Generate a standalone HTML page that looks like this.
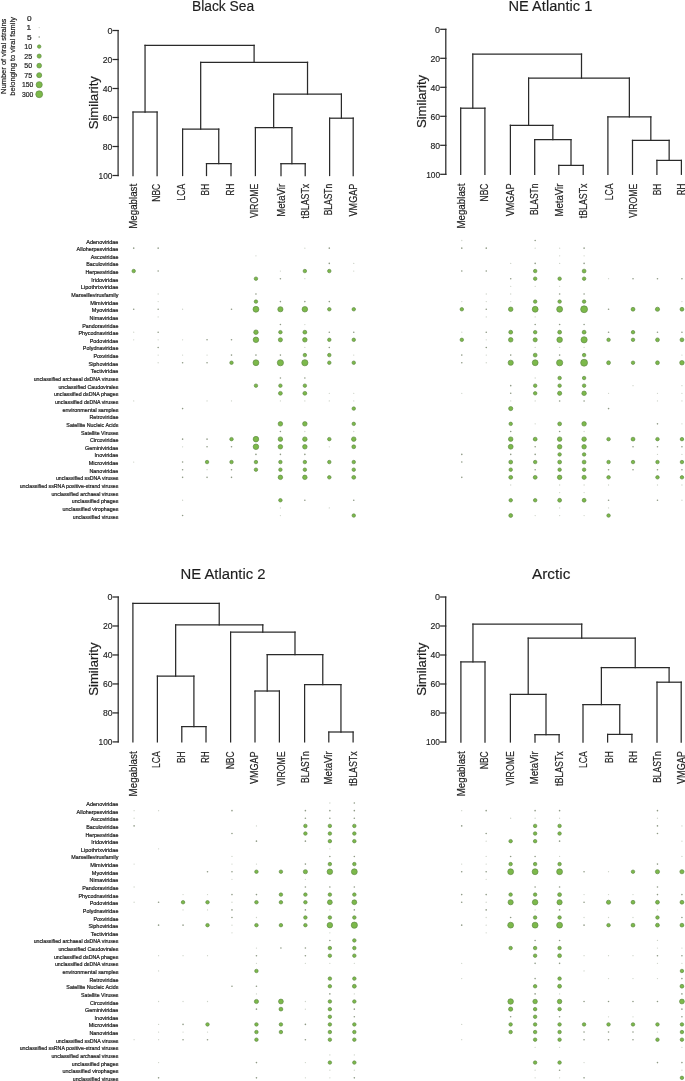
<!DOCTYPE html><html><head><meta charset="utf-8"><style>html,body{margin:0;padding:0;background:#fff;width:685px;height:1081px;overflow:hidden}svg{display:block;will-change:transform}text{font-family:"Liberation Sans",sans-serif}</style></head><body><svg width="685" height="1081" viewBox="0 0 685 1081" font-family='"Liberation Sans", sans-serif'>
<rect width="685" height="1081" fill="#ffffff"/>
<text transform="translate(6.0,94.0) rotate(-90)" font-size="7.5" textLength="75.4" lengthAdjust="spacingAndGlyphs" fill="#1e1e1e" stroke="#1e1e1e" stroke-width="0.2">Number of viral strains</text>
<text transform="translate(15.4,95.8) rotate(-90)" font-size="7.5" textLength="78.7" lengthAdjust="spacingAndGlyphs" fill="#1e1e1e" stroke="#1e1e1e" stroke-width="0.2">belonging to viral family</text>
<text x="31.6" y="20.60" font-size="7.3" text-anchor="end" textLength="4.6" lengthAdjust="spacingAndGlyphs" fill="#1e1e1e" stroke="#1e1e1e" stroke-width="0.2">0</text>
<text x="31.0" y="30.13" font-size="7.3" text-anchor="end" textLength="4.6" lengthAdjust="spacingAndGlyphs" fill="#1e1e1e" stroke="#1e1e1e" stroke-width="0.2">1</text>
<circle cx="39.2" cy="27.53" r="0.65" fill="#cdd3c8"/>
<text x="31.6" y="39.66" font-size="7.3" text-anchor="end" textLength="4.6" lengthAdjust="spacingAndGlyphs" fill="#1e1e1e" stroke="#1e1e1e" stroke-width="0.2">5</text>
<circle cx="39.2" cy="37.06" r="0.8" fill="#8f9a86"/>
<text x="32.2" y="49.19" font-size="7.3" text-anchor="end" textLength="7.9" lengthAdjust="spacingAndGlyphs" fill="#1e1e1e" stroke="#1e1e1e" stroke-width="0.2">10</text>
<circle cx="39.2" cy="46.59" r="1.75" fill="#7cb94a" stroke="#5f8844" stroke-width="0.65"/>
<text x="32.2" y="58.72" font-size="7.3" text-anchor="end" textLength="7.9" lengthAdjust="spacingAndGlyphs" fill="#1e1e1e" stroke="#1e1e1e" stroke-width="0.2">25</text>
<circle cx="39.2" cy="56.12" r="2.08" fill="#7cb94a" stroke="#5f8844" stroke-width="0.65"/>
<text x="32.2" y="68.25" font-size="7.3" text-anchor="end" textLength="7.9" lengthAdjust="spacingAndGlyphs" fill="#1e1e1e" stroke="#1e1e1e" stroke-width="0.2">50</text>
<circle cx="39.2" cy="65.65" r="2.38" fill="#7cb94a" stroke="#5f8844" stroke-width="0.65"/>
<text x="32.2" y="77.78" font-size="7.3" text-anchor="end" textLength="7.9" lengthAdjust="spacingAndGlyphs" fill="#1e1e1e" stroke="#1e1e1e" stroke-width="0.2">75</text>
<circle cx="39.2" cy="75.18" r="2.53" fill="#7cb94a" stroke="#5f8844" stroke-width="0.65"/>
<text x="33.3" y="87.31" font-size="7.3" text-anchor="end" textLength="11.4" lengthAdjust="spacingAndGlyphs" fill="#1e1e1e" stroke="#1e1e1e" stroke-width="0.2">150</text>
<circle cx="39.2" cy="84.71" r="3.08" fill="#7cb94a" stroke="#5f8844" stroke-width="0.65"/>
<text x="33.3" y="96.84" font-size="7.3" text-anchor="end" textLength="11.4" lengthAdjust="spacingAndGlyphs" fill="#1e1e1e" stroke="#1e1e1e" stroke-width="0.2">300</text>
<circle cx="39.2" cy="94.24" r="3.45" fill="#7cb94a" stroke="#5f8844" stroke-width="0.65"/>
<text x="192" y="11.2" font-size="15.4" textLength="62.2" lengthAdjust="spacingAndGlyphs" fill="#1e1e1e" stroke="#1e1e1e" stroke-width="0.15">Black Sea</text>
<g stroke="#2a2a2a" stroke-width="1.25" fill="none" stroke-linecap="square">
<line x1="118.10" y1="30.50" x2="118.10" y2="175.50"/>
<line x1="113.10" y1="30.50" x2="118.10" y2="30.50"/>
<line x1="113.10" y1="59.50" x2="118.10" y2="59.50"/>
<line x1="113.10" y1="88.50" x2="118.10" y2="88.50"/>
<line x1="113.10" y1="117.50" x2="118.10" y2="117.50"/>
<line x1="113.10" y1="146.50" x2="118.10" y2="146.50"/>
<line x1="113.10" y1="175.50" x2="118.10" y2="175.50"/>
<line x1="133.00" y1="112.00" x2="133.00" y2="175.50"/>
<line x1="157.10" y1="112.00" x2="157.10" y2="175.50"/>
<line x1="133.00" y1="112.00" x2="157.10" y2="112.00"/>
<line x1="206.50" y1="163.60" x2="206.50" y2="175.50"/>
<line x1="231.00" y1="163.60" x2="231.00" y2="175.50"/>
<line x1="206.50" y1="163.60" x2="231.00" y2="163.60"/>
<line x1="182.60" y1="129.20" x2="182.60" y2="175.50"/>
<line x1="218.75" y1="129.20" x2="218.75" y2="163.60"/>
<line x1="182.60" y1="129.20" x2="218.75" y2="129.20"/>
<line x1="281.00" y1="163.70" x2="281.00" y2="175.50"/>
<line x1="305.20" y1="163.70" x2="305.20" y2="175.50"/>
<line x1="281.00" y1="163.70" x2="305.20" y2="163.70"/>
<line x1="255.40" y1="127.50" x2="255.40" y2="175.50"/>
<line x1="291.90" y1="127.50" x2="291.90" y2="163.70"/>
<line x1="255.40" y1="127.50" x2="291.90" y2="127.50"/>
<line x1="329.60" y1="118.20" x2="329.60" y2="175.50"/>
<line x1="353.20" y1="118.20" x2="353.20" y2="175.50"/>
<line x1="329.60" y1="118.20" x2="353.20" y2="118.20"/>
<line x1="273.65" y1="94.10" x2="273.65" y2="127.50"/>
<line x1="341.40" y1="94.10" x2="341.40" y2="118.20"/>
<line x1="273.65" y1="94.10" x2="341.40" y2="94.10"/>
<line x1="200.68" y1="62.30" x2="200.68" y2="129.20"/>
<line x1="307.52" y1="62.30" x2="307.52" y2="94.10"/>
<line x1="200.68" y1="62.30" x2="307.52" y2="62.30"/>
<line x1="145.05" y1="45.40" x2="145.05" y2="112.00"/>
<line x1="254.10" y1="45.40" x2="254.10" y2="62.30"/>
<line x1="145.05" y1="45.40" x2="254.10" y2="45.40"/>
</g>
<text x="112.40" y="33.80" font-size="9.0" text-anchor="end" textLength="5.0" lengthAdjust="spacingAndGlyphs" fill="#1e1e1e" stroke="#1e1e1e" stroke-width="0.15">0</text>
<text x="112.40" y="62.80" font-size="9.0" text-anchor="end" textLength="9.6" lengthAdjust="spacingAndGlyphs" fill="#1e1e1e" stroke="#1e1e1e" stroke-width="0.15">20</text>
<text x="112.40" y="91.80" font-size="9.0" text-anchor="end" textLength="9.6" lengthAdjust="spacingAndGlyphs" fill="#1e1e1e" stroke="#1e1e1e" stroke-width="0.15">40</text>
<text x="112.40" y="120.80" font-size="9.0" text-anchor="end" textLength="9.6" lengthAdjust="spacingAndGlyphs" fill="#1e1e1e" stroke="#1e1e1e" stroke-width="0.15">60</text>
<text x="112.40" y="149.80" font-size="9.0" text-anchor="end" textLength="9.6" lengthAdjust="spacingAndGlyphs" fill="#1e1e1e" stroke="#1e1e1e" stroke-width="0.15">80</text>
<text x="112.40" y="178.80" font-size="9.0" text-anchor="end" textLength="13.9" lengthAdjust="spacingAndGlyphs" fill="#1e1e1e" stroke="#1e1e1e" stroke-width="0.15">100</text>
<text transform="translate(98.20,102.70) rotate(-90)" font-size="13.6" text-anchor="middle" textLength="53.2" lengthAdjust="spacingAndGlyphs" fill="#1e1e1e" stroke="#1e1e1e" stroke-width="0.2">Similarity</text>
<text transform="translate(136.70,183.80) rotate(-90)" font-size="10.0" text-anchor="end" textLength="45" lengthAdjust="spacingAndGlyphs" fill="#1e1e1e" stroke="#1e1e1e" stroke-width="0.2">Megablast</text>
<text transform="translate(159.90,183.80) rotate(-90)" font-size="10.0" text-anchor="end" textLength="17.9" lengthAdjust="spacingAndGlyphs" fill="#1e1e1e" stroke="#1e1e1e" stroke-width="0.2">NBC</text>
<text transform="translate(185.40,183.80) rotate(-90)" font-size="10.0" text-anchor="end" textLength="16.7" lengthAdjust="spacingAndGlyphs" fill="#1e1e1e" stroke="#1e1e1e" stroke-width="0.2">LCA</text>
<text transform="translate(209.40,183.80) rotate(-90)" font-size="10.0" text-anchor="end" textLength="11.6" lengthAdjust="spacingAndGlyphs" fill="#1e1e1e" stroke="#1e1e1e" stroke-width="0.2">BH</text>
<text transform="translate(233.60,183.80) rotate(-90)" font-size="10.0" text-anchor="end" textLength="11.6" lengthAdjust="spacingAndGlyphs" fill="#1e1e1e" stroke="#1e1e1e" stroke-width="0.2">RH</text>
<text transform="translate(257.90,183.80) rotate(-90)" font-size="10.0" text-anchor="end" textLength="34.3" lengthAdjust="spacingAndGlyphs" fill="#1e1e1e" stroke="#1e1e1e" stroke-width="0.2">VIROME</text>
<text transform="translate(284.70,183.80) rotate(-90)" font-size="10.0" text-anchor="end" textLength="33" lengthAdjust="spacingAndGlyphs" fill="#1e1e1e" stroke="#1e1e1e" stroke-width="0.2">MetaVir</text>
<text transform="translate(308.70,183.80) rotate(-90)" font-size="10.0" text-anchor="end" textLength="34.7" lengthAdjust="spacingAndGlyphs" fill="#1e1e1e" stroke="#1e1e1e" stroke-width="0.2">tBLASTx</text>
<text transform="translate(332.40,183.80) rotate(-90)" font-size="10.0" text-anchor="end" textLength="31.5" lengthAdjust="spacingAndGlyphs" fill="#1e1e1e" stroke="#1e1e1e" stroke-width="0.2">BLASTn</text>
<text transform="translate(357.20,183.80) rotate(-90)" font-size="10.0" text-anchor="end" textLength="32.6" lengthAdjust="spacingAndGlyphs" fill="#1e1e1e" stroke="#1e1e1e" stroke-width="0.2">VMGAP</text>
<text x="508.5" y="11.2" font-size="15.4" textLength="83.8" lengthAdjust="spacingAndGlyphs" fill="#1e1e1e" stroke="#1e1e1e" stroke-width="0.15">NE Atlantic 1</text>
<g stroke="#2a2a2a" stroke-width="1.25" fill="none" stroke-linecap="square">
<line x1="445.80" y1="29.30" x2="445.80" y2="174.30"/>
<line x1="440.80" y1="29.30" x2="445.80" y2="29.30"/>
<line x1="440.80" y1="58.30" x2="445.80" y2="58.30"/>
<line x1="440.80" y1="87.30" x2="445.80" y2="87.30"/>
<line x1="440.80" y1="116.30" x2="445.80" y2="116.30"/>
<line x1="440.80" y1="145.30" x2="445.80" y2="145.30"/>
<line x1="440.80" y1="174.30" x2="445.80" y2="174.30"/>
<line x1="460.70" y1="108.20" x2="460.70" y2="174.30"/>
<line x1="484.90" y1="108.20" x2="484.90" y2="174.30"/>
<line x1="460.70" y1="108.20" x2="484.90" y2="108.20"/>
<line x1="558.80" y1="165.40" x2="558.80" y2="174.30"/>
<line x1="583.20" y1="165.40" x2="583.20" y2="174.30"/>
<line x1="558.80" y1="165.40" x2="583.20" y2="165.40"/>
<line x1="534.70" y1="139.50" x2="534.70" y2="174.30"/>
<line x1="571.00" y1="139.50" x2="571.00" y2="165.40"/>
<line x1="534.70" y1="139.50" x2="571.00" y2="139.50"/>
<line x1="510.40" y1="125.30" x2="510.40" y2="174.30"/>
<line x1="552.85" y1="125.30" x2="552.85" y2="139.50"/>
<line x1="510.40" y1="125.30" x2="552.85" y2="125.30"/>
<line x1="656.90" y1="160.40" x2="656.90" y2="174.30"/>
<line x1="681.40" y1="160.40" x2="681.40" y2="174.30"/>
<line x1="656.90" y1="160.40" x2="681.40" y2="160.40"/>
<line x1="632.50" y1="140.40" x2="632.50" y2="174.30"/>
<line x1="669.15" y1="140.40" x2="669.15" y2="160.40"/>
<line x1="632.50" y1="140.40" x2="669.15" y2="140.40"/>
<line x1="607.90" y1="116.80" x2="607.90" y2="174.30"/>
<line x1="650.83" y1="116.80" x2="650.83" y2="140.40"/>
<line x1="607.90" y1="116.80" x2="650.83" y2="116.80"/>
<line x1="528.60" y1="78.10" x2="528.60" y2="125.30"/>
<line x1="629.36" y1="78.10" x2="629.36" y2="116.80"/>
<line x1="528.60" y1="78.10" x2="629.36" y2="78.10"/>
<line x1="472.80" y1="54.10" x2="472.80" y2="108.20"/>
<line x1="581.50" y1="54.10" x2="581.50" y2="78.10"/>
<line x1="472.80" y1="54.10" x2="581.50" y2="54.10"/>
</g>
<text x="440.10" y="32.60" font-size="9.0" text-anchor="end" textLength="5.0" lengthAdjust="spacingAndGlyphs" fill="#1e1e1e" stroke="#1e1e1e" stroke-width="0.15">0</text>
<text x="440.10" y="61.60" font-size="9.0" text-anchor="end" textLength="9.6" lengthAdjust="spacingAndGlyphs" fill="#1e1e1e" stroke="#1e1e1e" stroke-width="0.15">20</text>
<text x="440.10" y="90.60" font-size="9.0" text-anchor="end" textLength="9.6" lengthAdjust="spacingAndGlyphs" fill="#1e1e1e" stroke="#1e1e1e" stroke-width="0.15">40</text>
<text x="440.10" y="119.60" font-size="9.0" text-anchor="end" textLength="9.6" lengthAdjust="spacingAndGlyphs" fill="#1e1e1e" stroke="#1e1e1e" stroke-width="0.15">60</text>
<text x="440.10" y="148.60" font-size="9.0" text-anchor="end" textLength="9.6" lengthAdjust="spacingAndGlyphs" fill="#1e1e1e" stroke="#1e1e1e" stroke-width="0.15">80</text>
<text x="440.10" y="177.60" font-size="9.0" text-anchor="end" textLength="13.9" lengthAdjust="spacingAndGlyphs" fill="#1e1e1e" stroke="#1e1e1e" stroke-width="0.15">100</text>
<text transform="translate(425.90,101.50) rotate(-90)" font-size="13.6" text-anchor="middle" textLength="53.2" lengthAdjust="spacingAndGlyphs" fill="#1e1e1e" stroke="#1e1e1e" stroke-width="0.2">Similarity</text>
<text transform="translate(465.10,183.60) rotate(-90)" font-size="10.0" text-anchor="end" textLength="45" lengthAdjust="spacingAndGlyphs" fill="#1e1e1e" stroke="#1e1e1e" stroke-width="0.2">Megablast</text>
<text transform="translate(488.10,183.60) rotate(-90)" font-size="10.0" text-anchor="end" textLength="17.9" lengthAdjust="spacingAndGlyphs" fill="#1e1e1e" stroke="#1e1e1e" stroke-width="0.2">NBC</text>
<text transform="translate(513.60,183.60) rotate(-90)" font-size="10.0" text-anchor="end" textLength="32.6" lengthAdjust="spacingAndGlyphs" fill="#1e1e1e" stroke="#1e1e1e" stroke-width="0.2">VMGAP</text>
<text transform="translate(538.30,183.60) rotate(-90)" font-size="10.0" text-anchor="end" textLength="31.5" lengthAdjust="spacingAndGlyphs" fill="#1e1e1e" stroke="#1e1e1e" stroke-width="0.2">BLASTn</text>
<text transform="translate(562.60,183.60) rotate(-90)" font-size="10.0" text-anchor="end" textLength="33" lengthAdjust="spacingAndGlyphs" fill="#1e1e1e" stroke="#1e1e1e" stroke-width="0.2">MetaVir</text>
<text transform="translate(587.00,183.60) rotate(-90)" font-size="10.0" text-anchor="end" textLength="34.7" lengthAdjust="spacingAndGlyphs" fill="#1e1e1e" stroke="#1e1e1e" stroke-width="0.2">tBLASTx</text>
<text transform="translate(613.00,183.60) rotate(-90)" font-size="10.0" text-anchor="end" textLength="16.7" lengthAdjust="spacingAndGlyphs" fill="#1e1e1e" stroke="#1e1e1e" stroke-width="0.2">LCA</text>
<text transform="translate(637.00,183.60) rotate(-90)" font-size="10.0" text-anchor="end" textLength="34.3" lengthAdjust="spacingAndGlyphs" fill="#1e1e1e" stroke="#1e1e1e" stroke-width="0.2">VIROME</text>
<text transform="translate(661.30,183.60) rotate(-90)" font-size="10.0" text-anchor="end" textLength="11.6" lengthAdjust="spacingAndGlyphs" fill="#1e1e1e" stroke="#1e1e1e" stroke-width="0.2">BH</text>
<text transform="translate(685.30,183.60) rotate(-90)" font-size="10.0" text-anchor="end" textLength="11.6" lengthAdjust="spacingAndGlyphs" fill="#1e1e1e" stroke="#1e1e1e" stroke-width="0.2">RH</text>
<text x="180.5" y="578.9" font-size="15.4" textLength="85.1" lengthAdjust="spacingAndGlyphs" fill="#1e1e1e" stroke="#1e1e1e" stroke-width="0.15">NE Atlantic 2</text>
<g stroke="#2a2a2a" stroke-width="1.25" fill="none" stroke-linecap="square">
<line x1="118.20" y1="597.00" x2="118.20" y2="741.90"/>
<line x1="113.20" y1="597.00" x2="118.20" y2="597.00"/>
<line x1="113.20" y1="625.98" x2="118.20" y2="625.98"/>
<line x1="113.20" y1="654.96" x2="118.20" y2="654.96"/>
<line x1="113.20" y1="683.94" x2="118.20" y2="683.94"/>
<line x1="113.20" y1="712.92" x2="118.20" y2="712.92"/>
<line x1="113.20" y1="741.90" x2="118.20" y2="741.90"/>
<line x1="181.80" y1="726.60" x2="181.80" y2="741.90"/>
<line x1="206.00" y1="726.60" x2="206.00" y2="741.90"/>
<line x1="181.80" y1="726.60" x2="206.00" y2="726.60"/>
<line x1="157.40" y1="676.10" x2="157.40" y2="741.90"/>
<line x1="193.90" y1="676.10" x2="193.90" y2="726.60"/>
<line x1="157.40" y1="676.10" x2="193.90" y2="676.10"/>
<line x1="255.00" y1="691.00" x2="255.00" y2="741.90"/>
<line x1="279.40" y1="691.00" x2="279.40" y2="741.90"/>
<line x1="255.00" y1="691.00" x2="279.40" y2="691.00"/>
<line x1="328.80" y1="732.00" x2="328.80" y2="741.90"/>
<line x1="353.10" y1="732.00" x2="353.10" y2="741.90"/>
<line x1="328.80" y1="732.00" x2="353.10" y2="732.00"/>
<line x1="304.60" y1="684.70" x2="304.60" y2="741.90"/>
<line x1="340.95" y1="684.70" x2="340.95" y2="732.00"/>
<line x1="304.60" y1="684.70" x2="340.95" y2="684.70"/>
<line x1="267.20" y1="654.60" x2="267.20" y2="691.00"/>
<line x1="322.78" y1="654.60" x2="322.78" y2="684.70"/>
<line x1="267.20" y1="654.60" x2="322.78" y2="654.60"/>
<line x1="230.60" y1="632.20" x2="230.60" y2="741.90"/>
<line x1="294.99" y1="632.20" x2="294.99" y2="654.60"/>
<line x1="230.60" y1="632.20" x2="294.99" y2="632.20"/>
<line x1="175.65" y1="624.80" x2="175.65" y2="676.10"/>
<line x1="262.79" y1="624.80" x2="262.79" y2="632.20"/>
<line x1="175.65" y1="624.80" x2="262.79" y2="624.80"/>
<line x1="132.90" y1="603.40" x2="132.90" y2="741.90"/>
<line x1="219.22" y1="603.40" x2="219.22" y2="624.80"/>
<line x1="132.90" y1="603.40" x2="219.22" y2="603.40"/>
</g>
<text x="112.50" y="600.30" font-size="9.0" text-anchor="end" textLength="5.0" lengthAdjust="spacingAndGlyphs" fill="#1e1e1e" stroke="#1e1e1e" stroke-width="0.15">0</text>
<text x="112.50" y="629.28" font-size="9.0" text-anchor="end" textLength="9.6" lengthAdjust="spacingAndGlyphs" fill="#1e1e1e" stroke="#1e1e1e" stroke-width="0.15">20</text>
<text x="112.50" y="658.26" font-size="9.0" text-anchor="end" textLength="9.6" lengthAdjust="spacingAndGlyphs" fill="#1e1e1e" stroke="#1e1e1e" stroke-width="0.15">40</text>
<text x="112.50" y="687.24" font-size="9.0" text-anchor="end" textLength="9.6" lengthAdjust="spacingAndGlyphs" fill="#1e1e1e" stroke="#1e1e1e" stroke-width="0.15">60</text>
<text x="112.50" y="716.22" font-size="9.0" text-anchor="end" textLength="9.6" lengthAdjust="spacingAndGlyphs" fill="#1e1e1e" stroke="#1e1e1e" stroke-width="0.15">80</text>
<text x="112.50" y="745.20" font-size="9.0" text-anchor="end" textLength="13.9" lengthAdjust="spacingAndGlyphs" fill="#1e1e1e" stroke="#1e1e1e" stroke-width="0.15">100</text>
<text transform="translate(98.30,669.15) rotate(-90)" font-size="13.6" text-anchor="middle" textLength="53.2" lengthAdjust="spacingAndGlyphs" fill="#1e1e1e" stroke="#1e1e1e" stroke-width="0.2">Similarity</text>
<text transform="translate(136.70,751.40) rotate(-90)" font-size="10.0" text-anchor="end" textLength="45" lengthAdjust="spacingAndGlyphs" fill="#1e1e1e" stroke="#1e1e1e" stroke-width="0.2">Megablast</text>
<text transform="translate(159.90,751.40) rotate(-90)" font-size="10.0" text-anchor="end" textLength="16.7" lengthAdjust="spacingAndGlyphs" fill="#1e1e1e" stroke="#1e1e1e" stroke-width="0.2">LCA</text>
<text transform="translate(185.40,751.40) rotate(-90)" font-size="10.0" text-anchor="end" textLength="11.6" lengthAdjust="spacingAndGlyphs" fill="#1e1e1e" stroke="#1e1e1e" stroke-width="0.2">BH</text>
<text transform="translate(209.40,751.40) rotate(-90)" font-size="10.0" text-anchor="end" textLength="11.6" lengthAdjust="spacingAndGlyphs" fill="#1e1e1e" stroke="#1e1e1e" stroke-width="0.2">RH</text>
<text transform="translate(233.60,751.40) rotate(-90)" font-size="10.0" text-anchor="end" textLength="17.9" lengthAdjust="spacingAndGlyphs" fill="#1e1e1e" stroke="#1e1e1e" stroke-width="0.2">NBC</text>
<text transform="translate(257.90,751.40) rotate(-90)" font-size="10.0" text-anchor="end" textLength="32.6" lengthAdjust="spacingAndGlyphs" fill="#1e1e1e" stroke="#1e1e1e" stroke-width="0.2">VMGAP</text>
<text transform="translate(284.70,751.40) rotate(-90)" font-size="10.0" text-anchor="end" textLength="34.3" lengthAdjust="spacingAndGlyphs" fill="#1e1e1e" stroke="#1e1e1e" stroke-width="0.2">VIROME</text>
<text transform="translate(308.70,751.40) rotate(-90)" font-size="10.0" text-anchor="end" textLength="31.5" lengthAdjust="spacingAndGlyphs" fill="#1e1e1e" stroke="#1e1e1e" stroke-width="0.2">BLASTn</text>
<text transform="translate(332.40,751.40) rotate(-90)" font-size="10.0" text-anchor="end" textLength="33" lengthAdjust="spacingAndGlyphs" fill="#1e1e1e" stroke="#1e1e1e" stroke-width="0.2">MetaVir</text>
<text transform="translate(357.20,751.40) rotate(-90)" font-size="10.0" text-anchor="end" textLength="34.7" lengthAdjust="spacingAndGlyphs" fill="#1e1e1e" stroke="#1e1e1e" stroke-width="0.2">tBLASTx</text>
<text x="532.0" y="579.1" font-size="15.4" textLength="38.4" lengthAdjust="spacingAndGlyphs" fill="#1e1e1e" stroke="#1e1e1e" stroke-width="0.15">Arctic</text>
<g stroke="#2a2a2a" stroke-width="1.25" fill="none" stroke-linecap="square">
<line x1="445.70" y1="597.00" x2="445.70" y2="742.00"/>
<line x1="440.70" y1="597.00" x2="445.70" y2="597.00"/>
<line x1="440.70" y1="626.00" x2="445.70" y2="626.00"/>
<line x1="440.70" y1="655.00" x2="445.70" y2="655.00"/>
<line x1="440.70" y1="684.00" x2="445.70" y2="684.00"/>
<line x1="440.70" y1="713.00" x2="445.70" y2="713.00"/>
<line x1="440.70" y1="742.00" x2="445.70" y2="742.00"/>
<line x1="460.90" y1="661.90" x2="460.90" y2="742.00"/>
<line x1="485.00" y1="661.90" x2="485.00" y2="742.00"/>
<line x1="460.90" y1="661.90" x2="485.00" y2="661.90"/>
<line x1="535.00" y1="734.70" x2="535.00" y2="742.00"/>
<line x1="559.10" y1="734.70" x2="559.10" y2="742.00"/>
<line x1="535.00" y1="734.70" x2="559.10" y2="734.70"/>
<line x1="510.40" y1="694.40" x2="510.40" y2="742.00"/>
<line x1="546.00" y1="694.40" x2="546.00" y2="734.70"/>
<line x1="510.40" y1="694.40" x2="546.00" y2="694.40"/>
<line x1="607.60" y1="734.40" x2="607.60" y2="742.00"/>
<line x1="631.90" y1="734.40" x2="631.90" y2="742.00"/>
<line x1="607.60" y1="734.40" x2="631.90" y2="734.40"/>
<line x1="583.00" y1="704.60" x2="583.00" y2="742.00"/>
<line x1="619.75" y1="704.60" x2="619.75" y2="734.40"/>
<line x1="583.00" y1="704.60" x2="619.75" y2="704.60"/>
<line x1="657.00" y1="682.20" x2="657.00" y2="742.00"/>
<line x1="681.20" y1="682.20" x2="681.20" y2="742.00"/>
<line x1="657.00" y1="682.20" x2="681.20" y2="682.20"/>
<line x1="601.38" y1="667.50" x2="601.38" y2="704.60"/>
<line x1="669.10" y1="667.50" x2="669.10" y2="682.20"/>
<line x1="601.38" y1="667.50" x2="669.10" y2="667.50"/>
<line x1="528.20" y1="638.20" x2="528.20" y2="694.40"/>
<line x1="635.24" y1="638.20" x2="635.24" y2="667.50"/>
<line x1="528.20" y1="638.20" x2="635.24" y2="638.20"/>
<line x1="472.95" y1="624.20" x2="472.95" y2="661.90"/>
<line x1="581.72" y1="624.20" x2="581.72" y2="638.20"/>
<line x1="472.95" y1="624.20" x2="581.72" y2="624.20"/>
</g>
<text x="440.00" y="600.30" font-size="9.0" text-anchor="end" textLength="5.0" lengthAdjust="spacingAndGlyphs" fill="#1e1e1e" stroke="#1e1e1e" stroke-width="0.15">0</text>
<text x="440.00" y="629.30" font-size="9.0" text-anchor="end" textLength="9.6" lengthAdjust="spacingAndGlyphs" fill="#1e1e1e" stroke="#1e1e1e" stroke-width="0.15">20</text>
<text x="440.00" y="658.30" font-size="9.0" text-anchor="end" textLength="9.6" lengthAdjust="spacingAndGlyphs" fill="#1e1e1e" stroke="#1e1e1e" stroke-width="0.15">40</text>
<text x="440.00" y="687.30" font-size="9.0" text-anchor="end" textLength="9.6" lengthAdjust="spacingAndGlyphs" fill="#1e1e1e" stroke="#1e1e1e" stroke-width="0.15">60</text>
<text x="440.00" y="716.30" font-size="9.0" text-anchor="end" textLength="9.6" lengthAdjust="spacingAndGlyphs" fill="#1e1e1e" stroke="#1e1e1e" stroke-width="0.15">80</text>
<text x="440.00" y="745.30" font-size="9.0" text-anchor="end" textLength="13.9" lengthAdjust="spacingAndGlyphs" fill="#1e1e1e" stroke="#1e1e1e" stroke-width="0.15">100</text>
<text transform="translate(425.80,669.20) rotate(-90)" font-size="13.6" text-anchor="middle" textLength="53.2" lengthAdjust="spacingAndGlyphs" fill="#1e1e1e" stroke="#1e1e1e" stroke-width="0.2">Similarity</text>
<text transform="translate(465.10,751.30) rotate(-90)" font-size="10.0" text-anchor="end" textLength="45" lengthAdjust="spacingAndGlyphs" fill="#1e1e1e" stroke="#1e1e1e" stroke-width="0.2">Megablast</text>
<text transform="translate(488.10,751.30) rotate(-90)" font-size="10.0" text-anchor="end" textLength="17.9" lengthAdjust="spacingAndGlyphs" fill="#1e1e1e" stroke="#1e1e1e" stroke-width="0.2">NBC</text>
<text transform="translate(513.60,751.30) rotate(-90)" font-size="10.0" text-anchor="end" textLength="34.3" lengthAdjust="spacingAndGlyphs" fill="#1e1e1e" stroke="#1e1e1e" stroke-width="0.2">VIROME</text>
<text transform="translate(538.30,751.30) rotate(-90)" font-size="10.0" text-anchor="end" textLength="33" lengthAdjust="spacingAndGlyphs" fill="#1e1e1e" stroke="#1e1e1e" stroke-width="0.2">MetaVir</text>
<text transform="translate(562.60,751.30) rotate(-90)" font-size="10.0" text-anchor="end" textLength="34.7" lengthAdjust="spacingAndGlyphs" fill="#1e1e1e" stroke="#1e1e1e" stroke-width="0.2">tBLASTx</text>
<text transform="translate(587.00,751.30) rotate(-90)" font-size="10.0" text-anchor="end" textLength="16.7" lengthAdjust="spacingAndGlyphs" fill="#1e1e1e" stroke="#1e1e1e" stroke-width="0.2">LCA</text>
<text transform="translate(613.00,751.30) rotate(-90)" font-size="10.0" text-anchor="end" textLength="11.6" lengthAdjust="spacingAndGlyphs" fill="#1e1e1e" stroke="#1e1e1e" stroke-width="0.2">BH</text>
<text transform="translate(637.00,751.30) rotate(-90)" font-size="10.0" text-anchor="end" textLength="11.6" lengthAdjust="spacingAndGlyphs" fill="#1e1e1e" stroke="#1e1e1e" stroke-width="0.2">RH</text>
<text transform="translate(661.30,751.30) rotate(-90)" font-size="10.0" text-anchor="end" textLength="31.5" lengthAdjust="spacingAndGlyphs" fill="#1e1e1e" stroke="#1e1e1e" stroke-width="0.2">BLASTn</text>
<text transform="translate(685.30,751.30) rotate(-90)" font-size="10.0" text-anchor="end" textLength="32.6" lengthAdjust="spacingAndGlyphs" fill="#1e1e1e" stroke="#1e1e1e" stroke-width="0.2">VMGAP</text>
<text x="118.4" y="243.50" font-size="5.5" text-anchor="end" textLength="32.05" lengthAdjust="spacingAndGlyphs" fill="#1e1e1e" stroke="#1e1e1e" stroke-width="0.22">Adenoviridae</text>
<text x="118.4" y="251.14" font-size="5.5" text-anchor="end" textLength="41.78" lengthAdjust="spacingAndGlyphs" fill="#1e1e1e" stroke="#1e1e1e" stroke-width="0.22">Alloherpesviridae</text>
<text x="118.4" y="258.78" font-size="5.5" text-anchor="end" textLength="27.62" lengthAdjust="spacingAndGlyphs" fill="#1e1e1e" stroke="#1e1e1e" stroke-width="0.22">Ascoviridae</text>
<text x="118.4" y="266.42" font-size="5.5" text-anchor="end" textLength="32.21" lengthAdjust="spacingAndGlyphs" fill="#1e1e1e" stroke="#1e1e1e" stroke-width="0.22">Baculoviridae</text>
<text x="118.4" y="274.06" font-size="5.5" text-anchor="end" textLength="33.00" lengthAdjust="spacingAndGlyphs" fill="#1e1e1e" stroke="#1e1e1e" stroke-width="0.22">Herpesviridae</text>
<text x="118.4" y="281.70" font-size="5.5" text-anchor="end" textLength="27.09" lengthAdjust="spacingAndGlyphs" fill="#1e1e1e" stroke="#1e1e1e" stroke-width="0.22">Iridoviridae</text>
<text x="118.4" y="289.34" font-size="5.5" text-anchor="end" textLength="37.51" lengthAdjust="spacingAndGlyphs" fill="#1e1e1e" stroke="#1e1e1e" stroke-width="0.22">Lipothrixviridae</text>
<text x="118.4" y="296.98" font-size="5.5" text-anchor="end" textLength="47.22" lengthAdjust="spacingAndGlyphs" fill="#1e1e1e" stroke="#1e1e1e" stroke-width="0.22">Marseillevirusfamily</text>
<text x="118.4" y="304.62" font-size="5.5" text-anchor="end" textLength="28.19" lengthAdjust="spacingAndGlyphs" fill="#1e1e1e" stroke="#1e1e1e" stroke-width="0.22">Mimiviridae</text>
<text x="118.4" y="312.26" font-size="5.5" text-anchor="end" textLength="26.58" lengthAdjust="spacingAndGlyphs" fill="#1e1e1e" stroke="#1e1e1e" stroke-width="0.22">Myoviridae</text>
<text x="118.4" y="319.90" font-size="5.5" text-anchor="end" textLength="28.78" lengthAdjust="spacingAndGlyphs" fill="#1e1e1e" stroke="#1e1e1e" stroke-width="0.22">Nimaviridae</text>
<text x="118.4" y="327.54" font-size="5.5" text-anchor="end" textLength="36.12" lengthAdjust="spacingAndGlyphs" fill="#1e1e1e" stroke="#1e1e1e" stroke-width="0.22">Pandoraviridae</text>
<text x="118.4" y="335.18" font-size="5.5" text-anchor="end" textLength="39.92" lengthAdjust="spacingAndGlyphs" fill="#1e1e1e" stroke="#1e1e1e" stroke-width="0.22">Phycodnaviridae</text>
<text x="118.4" y="342.82" font-size="5.5" text-anchor="end" textLength="28.70" lengthAdjust="spacingAndGlyphs" fill="#1e1e1e" stroke="#1e1e1e" stroke-width="0.22">Podoviridae</text>
<text x="118.4" y="350.46" font-size="5.5" text-anchor="end" textLength="35.53" lengthAdjust="spacingAndGlyphs" fill="#1e1e1e" stroke="#1e1e1e" stroke-width="0.22">Polydnaviridae</text>
<text x="118.4" y="358.10" font-size="5.5" text-anchor="end" textLength="24.98" lengthAdjust="spacingAndGlyphs" fill="#1e1e1e" stroke="#1e1e1e" stroke-width="0.22">Poxviridae</text>
<text x="118.4" y="365.74" font-size="5.5" text-anchor="end" textLength="29.88" lengthAdjust="spacingAndGlyphs" fill="#1e1e1e" stroke="#1e1e1e" stroke-width="0.22">Siphoviridae</text>
<text x="118.4" y="373.38" font-size="5.5" text-anchor="end" textLength="27.65" lengthAdjust="spacingAndGlyphs" fill="#1e1e1e" stroke="#1e1e1e" stroke-width="0.22">Tectiviridae</text>
<text x="118.4" y="381.02" font-size="5.5" text-anchor="end" textLength="84.77" lengthAdjust="spacingAndGlyphs" fill="#1e1e1e" stroke="#1e1e1e" stroke-width="0.22">unclassified archaeal dsDNA viruses</text>
<text x="118.4" y="388.66" font-size="5.5" text-anchor="end" textLength="59.97" lengthAdjust="spacingAndGlyphs" fill="#1e1e1e" stroke="#1e1e1e" stroke-width="0.22">unclassified Caudovirales</text>
<text x="118.4" y="396.30" font-size="5.5" text-anchor="end" textLength="64.47" lengthAdjust="spacingAndGlyphs" fill="#1e1e1e" stroke="#1e1e1e" stroke-width="0.22">unclassified dsDNA phages</text>
<text x="118.4" y="403.94" font-size="5.5" text-anchor="end" textLength="63.46" lengthAdjust="spacingAndGlyphs" fill="#1e1e1e" stroke="#1e1e1e" stroke-width="0.22">unclassified dsDNA viruses</text>
<text x="118.4" y="411.58" font-size="5.5" text-anchor="end" textLength="55.87" lengthAdjust="spacingAndGlyphs" fill="#1e1e1e" stroke="#1e1e1e" stroke-width="0.22">environmental samples</text>
<text x="118.4" y="419.22" font-size="5.5" text-anchor="end" textLength="28.99" lengthAdjust="spacingAndGlyphs" fill="#1e1e1e" stroke="#1e1e1e" stroke-width="0.22">Retroviridae</text>
<text x="118.4" y="426.86" font-size="5.5" text-anchor="end" textLength="52.05" lengthAdjust="spacingAndGlyphs" fill="#1e1e1e" stroke="#1e1e1e" stroke-width="0.22">Satellite Nucleic Acids</text>
<text x="118.4" y="434.50" font-size="5.5" text-anchor="end" textLength="37.29" lengthAdjust="spacingAndGlyphs" fill="#1e1e1e" stroke="#1e1e1e" stroke-width="0.22">Satellite Viruses</text>
<text x="118.4" y="442.14" font-size="5.5" text-anchor="end" textLength="28.38" lengthAdjust="spacingAndGlyphs" fill="#1e1e1e" stroke="#1e1e1e" stroke-width="0.22">Circoviridae</text>
<text x="118.4" y="449.78" font-size="5.5" text-anchor="end" textLength="33.33" lengthAdjust="spacingAndGlyphs" fill="#1e1e1e" stroke="#1e1e1e" stroke-width="0.22">Geminiviridae</text>
<text x="118.4" y="457.42" font-size="5.5" text-anchor="end" textLength="23.83" lengthAdjust="spacingAndGlyphs" fill="#1e1e1e" stroke="#1e1e1e" stroke-width="0.22">Inoviridae</text>
<text x="118.4" y="465.06" font-size="5.5" text-anchor="end" textLength="29.66" lengthAdjust="spacingAndGlyphs" fill="#1e1e1e" stroke="#1e1e1e" stroke-width="0.22">Microviridae</text>
<text x="118.4" y="472.70" font-size="5.5" text-anchor="end" textLength="28.98" lengthAdjust="spacingAndGlyphs" fill="#1e1e1e" stroke="#1e1e1e" stroke-width="0.22">Nanoviridae</text>
<text x="118.4" y="480.34" font-size="5.5" text-anchor="end" textLength="62.50" lengthAdjust="spacingAndGlyphs" fill="#1e1e1e" stroke="#1e1e1e" stroke-width="0.22">unclassified ssDNA viruses</text>
<text x="118.4" y="487.98" font-size="5.5" text-anchor="end" textLength="98.77" lengthAdjust="spacingAndGlyphs" fill="#1e1e1e" stroke="#1e1e1e" stroke-width="0.22">unclassified ssRNA positive-strand viruses</text>
<text x="118.4" y="495.62" font-size="5.5" text-anchor="end" textLength="66.99" lengthAdjust="spacingAndGlyphs" fill="#1e1e1e" stroke="#1e1e1e" stroke-width="0.22">unclassified archaeal viruses</text>
<text x="118.4" y="503.26" font-size="5.5" text-anchor="end" textLength="46.69" lengthAdjust="spacingAndGlyphs" fill="#1e1e1e" stroke="#1e1e1e" stroke-width="0.22">unclassified phages</text>
<text x="118.4" y="510.90" font-size="5.5" text-anchor="end" textLength="55.79" lengthAdjust="spacingAndGlyphs" fill="#1e1e1e" stroke="#1e1e1e" stroke-width="0.22">unclassified virophages</text>
<text x="118.4" y="518.54" font-size="5.5" text-anchor="end" textLength="45.69" lengthAdjust="spacingAndGlyphs" fill="#1e1e1e" stroke="#1e1e1e" stroke-width="0.22">unclassified viruses</text>
<text x="118.4" y="806.00" font-size="5.5" text-anchor="end" textLength="32.05" lengthAdjust="spacingAndGlyphs" fill="#1e1e1e" stroke="#1e1e1e" stroke-width="0.22">Adenoviridae</text>
<text x="118.4" y="813.63" font-size="5.5" text-anchor="end" textLength="41.78" lengthAdjust="spacingAndGlyphs" fill="#1e1e1e" stroke="#1e1e1e" stroke-width="0.22">Alloherpesviridae</text>
<text x="118.4" y="821.27" font-size="5.5" text-anchor="end" textLength="27.62" lengthAdjust="spacingAndGlyphs" fill="#1e1e1e" stroke="#1e1e1e" stroke-width="0.22">Ascoviridae</text>
<text x="118.4" y="828.90" font-size="5.5" text-anchor="end" textLength="32.21" lengthAdjust="spacingAndGlyphs" fill="#1e1e1e" stroke="#1e1e1e" stroke-width="0.22">Baculoviridae</text>
<text x="118.4" y="836.54" font-size="5.5" text-anchor="end" textLength="33.00" lengthAdjust="spacingAndGlyphs" fill="#1e1e1e" stroke="#1e1e1e" stroke-width="0.22">Herpesviridae</text>
<text x="118.4" y="844.17" font-size="5.5" text-anchor="end" textLength="27.09" lengthAdjust="spacingAndGlyphs" fill="#1e1e1e" stroke="#1e1e1e" stroke-width="0.22">Iridoviridae</text>
<text x="118.4" y="851.81" font-size="5.5" text-anchor="end" textLength="37.51" lengthAdjust="spacingAndGlyphs" fill="#1e1e1e" stroke="#1e1e1e" stroke-width="0.22">Lipothrixviridae</text>
<text x="118.4" y="859.45" font-size="5.5" text-anchor="end" textLength="47.22" lengthAdjust="spacingAndGlyphs" fill="#1e1e1e" stroke="#1e1e1e" stroke-width="0.22">Marseillevirusfamily</text>
<text x="118.4" y="867.08" font-size="5.5" text-anchor="end" textLength="28.19" lengthAdjust="spacingAndGlyphs" fill="#1e1e1e" stroke="#1e1e1e" stroke-width="0.22">Mimiviridae</text>
<text x="118.4" y="874.72" font-size="5.5" text-anchor="end" textLength="26.58" lengthAdjust="spacingAndGlyphs" fill="#1e1e1e" stroke="#1e1e1e" stroke-width="0.22">Myoviridae</text>
<text x="118.4" y="882.35" font-size="5.5" text-anchor="end" textLength="28.78" lengthAdjust="spacingAndGlyphs" fill="#1e1e1e" stroke="#1e1e1e" stroke-width="0.22">Nimaviridae</text>
<text x="118.4" y="889.99" font-size="5.5" text-anchor="end" textLength="36.12" lengthAdjust="spacingAndGlyphs" fill="#1e1e1e" stroke="#1e1e1e" stroke-width="0.22">Pandoraviridae</text>
<text x="118.4" y="897.62" font-size="5.5" text-anchor="end" textLength="39.92" lengthAdjust="spacingAndGlyphs" fill="#1e1e1e" stroke="#1e1e1e" stroke-width="0.22">Phycodnaviridae</text>
<text x="118.4" y="905.25" font-size="5.5" text-anchor="end" textLength="28.70" lengthAdjust="spacingAndGlyphs" fill="#1e1e1e" stroke="#1e1e1e" stroke-width="0.22">Podoviridae</text>
<text x="118.4" y="912.89" font-size="5.5" text-anchor="end" textLength="35.53" lengthAdjust="spacingAndGlyphs" fill="#1e1e1e" stroke="#1e1e1e" stroke-width="0.22">Polydnaviridae</text>
<text x="118.4" y="920.52" font-size="5.5" text-anchor="end" textLength="24.98" lengthAdjust="spacingAndGlyphs" fill="#1e1e1e" stroke="#1e1e1e" stroke-width="0.22">Poxviridae</text>
<text x="118.4" y="928.16" font-size="5.5" text-anchor="end" textLength="29.88" lengthAdjust="spacingAndGlyphs" fill="#1e1e1e" stroke="#1e1e1e" stroke-width="0.22">Siphoviridae</text>
<text x="118.4" y="935.79" font-size="5.5" text-anchor="end" textLength="27.65" lengthAdjust="spacingAndGlyphs" fill="#1e1e1e" stroke="#1e1e1e" stroke-width="0.22">Tectiviridae</text>
<text x="118.4" y="943.43" font-size="5.5" text-anchor="end" textLength="84.77" lengthAdjust="spacingAndGlyphs" fill="#1e1e1e" stroke="#1e1e1e" stroke-width="0.22">unclassified archaeal dsDNA viruses</text>
<text x="118.4" y="951.07" font-size="5.5" text-anchor="end" textLength="59.97" lengthAdjust="spacingAndGlyphs" fill="#1e1e1e" stroke="#1e1e1e" stroke-width="0.22">unclassified Caudovirales</text>
<text x="118.4" y="958.70" font-size="5.5" text-anchor="end" textLength="64.47" lengthAdjust="spacingAndGlyphs" fill="#1e1e1e" stroke="#1e1e1e" stroke-width="0.22">unclassified dsDNA phages</text>
<text x="118.4" y="966.34" font-size="5.5" text-anchor="end" textLength="63.46" lengthAdjust="spacingAndGlyphs" fill="#1e1e1e" stroke="#1e1e1e" stroke-width="0.22">unclassified dsDNA viruses</text>
<text x="118.4" y="973.97" font-size="5.5" text-anchor="end" textLength="55.87" lengthAdjust="spacingAndGlyphs" fill="#1e1e1e" stroke="#1e1e1e" stroke-width="0.22">environmental samples</text>
<text x="118.4" y="981.61" font-size="5.5" text-anchor="end" textLength="28.99" lengthAdjust="spacingAndGlyphs" fill="#1e1e1e" stroke="#1e1e1e" stroke-width="0.22">Retroviridae</text>
<text x="118.4" y="989.24" font-size="5.5" text-anchor="end" textLength="52.05" lengthAdjust="spacingAndGlyphs" fill="#1e1e1e" stroke="#1e1e1e" stroke-width="0.22">Satellite Nucleic Acids</text>
<text x="118.4" y="996.88" font-size="5.5" text-anchor="end" textLength="37.29" lengthAdjust="spacingAndGlyphs" fill="#1e1e1e" stroke="#1e1e1e" stroke-width="0.22">Satellite Viruses</text>
<text x="118.4" y="1004.51" font-size="5.5" text-anchor="end" textLength="28.38" lengthAdjust="spacingAndGlyphs" fill="#1e1e1e" stroke="#1e1e1e" stroke-width="0.22">Circoviridae</text>
<text x="118.4" y="1012.14" font-size="5.5" text-anchor="end" textLength="33.33" lengthAdjust="spacingAndGlyphs" fill="#1e1e1e" stroke="#1e1e1e" stroke-width="0.22">Geminiviridae</text>
<text x="118.4" y="1019.78" font-size="5.5" text-anchor="end" textLength="23.83" lengthAdjust="spacingAndGlyphs" fill="#1e1e1e" stroke="#1e1e1e" stroke-width="0.22">Inoviridae</text>
<text x="118.4" y="1027.41" font-size="5.5" text-anchor="end" textLength="29.66" lengthAdjust="spacingAndGlyphs" fill="#1e1e1e" stroke="#1e1e1e" stroke-width="0.22">Microviridae</text>
<text x="118.4" y="1035.05" font-size="5.5" text-anchor="end" textLength="28.98" lengthAdjust="spacingAndGlyphs" fill="#1e1e1e" stroke="#1e1e1e" stroke-width="0.22">Nanoviridae</text>
<text x="118.4" y="1042.68" font-size="5.5" text-anchor="end" textLength="62.50" lengthAdjust="spacingAndGlyphs" fill="#1e1e1e" stroke="#1e1e1e" stroke-width="0.22">unclassified ssDNA viruses</text>
<text x="118.4" y="1050.32" font-size="5.5" text-anchor="end" textLength="98.77" lengthAdjust="spacingAndGlyphs" fill="#1e1e1e" stroke="#1e1e1e" stroke-width="0.22">unclassified ssRNA positive-strand viruses</text>
<text x="118.4" y="1057.95" font-size="5.5" text-anchor="end" textLength="66.99" lengthAdjust="spacingAndGlyphs" fill="#1e1e1e" stroke="#1e1e1e" stroke-width="0.22">unclassified archaeal viruses</text>
<text x="118.4" y="1065.59" font-size="5.5" text-anchor="end" textLength="46.69" lengthAdjust="spacingAndGlyphs" fill="#1e1e1e" stroke="#1e1e1e" stroke-width="0.22">unclassified phages</text>
<text x="118.4" y="1073.22" font-size="5.5" text-anchor="end" textLength="55.79" lengthAdjust="spacingAndGlyphs" fill="#1e1e1e" stroke="#1e1e1e" stroke-width="0.22">unclassified virophages</text>
<text x="118.4" y="1080.86" font-size="5.5" text-anchor="end" textLength="45.69" lengthAdjust="spacingAndGlyphs" fill="#1e1e1e" stroke="#1e1e1e" stroke-width="0.22">unclassified viruses</text>
<circle cx="133.70" cy="248.14" r="0.8" fill="#8f9a86"/>
<circle cx="158.15" cy="248.14" r="0.8" fill="#8f9a86"/>
<circle cx="304.85" cy="248.14" r="0.65" fill="#cdd3c8"/>
<circle cx="329.30" cy="248.14" r="0.8" fill="#8f9a86"/>
<circle cx="255.95" cy="255.78" r="0.65" fill="#cdd3c8"/>
<circle cx="329.30" cy="263.42" r="0.8" fill="#8f9a86"/>
<circle cx="353.75" cy="263.42" r="0.65" fill="#cdd3c8"/>
<circle cx="133.70" cy="271.06" r="1.75" fill="#7cb94a" stroke="#5f8844" stroke-width="0.65"/>
<circle cx="158.15" cy="271.06" r="0.8" fill="#8f9a86"/>
<circle cx="280.40" cy="271.06" r="0.65" fill="#cdd3c8"/>
<circle cx="304.85" cy="271.06" r="1.75" fill="#7cb94a" stroke="#5f8844" stroke-width="0.65"/>
<circle cx="329.30" cy="271.06" r="1.75" fill="#7cb94a" stroke="#5f8844" stroke-width="0.65"/>
<circle cx="353.75" cy="271.06" r="0.65" fill="#cdd3c8"/>
<circle cx="255.95" cy="278.70" r="1.75" fill="#7cb94a" stroke="#5f8844" stroke-width="0.65"/>
<circle cx="280.40" cy="278.70" r="0.8" fill="#8f9a86"/>
<circle cx="304.85" cy="278.70" r="0.65" fill="#cdd3c8"/>
<circle cx="158.15" cy="293.98" r="0.65" fill="#cdd3c8"/>
<circle cx="255.95" cy="293.98" r="0.8" fill="#8f9a86"/>
<circle cx="158.15" cy="301.62" r="0.65" fill="#cdd3c8"/>
<circle cx="255.95" cy="301.62" r="1.75" fill="#7cb94a" stroke="#5f8844" stroke-width="0.65"/>
<circle cx="280.40" cy="301.62" r="0.8" fill="#8f9a86"/>
<circle cx="304.85" cy="301.62" r="0.8" fill="#8f9a86"/>
<circle cx="329.30" cy="301.62" r="0.8" fill="#8f9a86"/>
<circle cx="133.70" cy="309.26" r="0.8" fill="#8f9a86"/>
<circle cx="158.15" cy="309.26" r="0.8" fill="#8f9a86"/>
<circle cx="182.60" cy="309.26" r="0.65" fill="#cdd3c8"/>
<circle cx="231.50" cy="309.26" r="0.8" fill="#8f9a86"/>
<circle cx="255.95" cy="309.26" r="2.94" fill="#7cb94a" stroke="#5f8844" stroke-width="0.65"/>
<circle cx="280.40" cy="309.26" r="2.60" fill="#7cb94a" stroke="#5f8844" stroke-width="0.65"/>
<circle cx="304.85" cy="309.26" r="2.77" fill="#7cb94a" stroke="#5f8844" stroke-width="0.65"/>
<circle cx="329.30" cy="309.26" r="1.75" fill="#7cb94a" stroke="#5f8844" stroke-width="0.65"/>
<circle cx="353.75" cy="309.26" r="1.75" fill="#7cb94a" stroke="#5f8844" stroke-width="0.65"/>
<circle cx="158.15" cy="316.90" r="0.65" fill="#cdd3c8"/>
<circle cx="280.40" cy="324.54" r="0.8" fill="#8f9a86"/>
<circle cx="304.85" cy="324.54" r="0.65" fill="#cdd3c8"/>
<circle cx="133.70" cy="332.18" r="0.65" fill="#cdd3c8"/>
<circle cx="158.15" cy="332.18" r="0.8" fill="#8f9a86"/>
<circle cx="255.95" cy="332.18" r="2.26" fill="#7cb94a" stroke="#5f8844" stroke-width="0.65"/>
<circle cx="280.40" cy="332.18" r="1.75" fill="#7cb94a" stroke="#5f8844" stroke-width="0.65"/>
<circle cx="304.85" cy="332.18" r="1.92" fill="#7cb94a" stroke="#5f8844" stroke-width="0.65"/>
<circle cx="329.30" cy="332.18" r="0.8" fill="#8f9a86"/>
<circle cx="353.75" cy="332.18" r="0.8" fill="#8f9a86"/>
<circle cx="133.70" cy="339.82" r="0.65" fill="#cdd3c8"/>
<circle cx="158.15" cy="339.82" r="0.65" fill="#cdd3c8"/>
<circle cx="182.60" cy="339.82" r="0.65" fill="#cdd3c8"/>
<circle cx="207.05" cy="339.82" r="0.8" fill="#8f9a86"/>
<circle cx="231.50" cy="339.82" r="0.8" fill="#8f9a86"/>
<circle cx="255.95" cy="339.82" r="2.77" fill="#7cb94a" stroke="#5f8844" stroke-width="0.65"/>
<circle cx="280.40" cy="339.82" r="2.09" fill="#7cb94a" stroke="#5f8844" stroke-width="0.65"/>
<circle cx="304.85" cy="339.82" r="2.26" fill="#7cb94a" stroke="#5f8844" stroke-width="0.65"/>
<circle cx="329.30" cy="339.82" r="1.75" fill="#7cb94a" stroke="#5f8844" stroke-width="0.65"/>
<circle cx="353.75" cy="339.82" r="1.75" fill="#7cb94a" stroke="#5f8844" stroke-width="0.65"/>
<circle cx="158.15" cy="347.46" r="0.8" fill="#8f9a86"/>
<circle cx="304.85" cy="347.46" r="0.65" fill="#cdd3c8"/>
<circle cx="329.30" cy="347.46" r="0.8" fill="#8f9a86"/>
<circle cx="158.15" cy="355.10" r="0.65" fill="#cdd3c8"/>
<circle cx="182.60" cy="355.10" r="0.65" fill="#cdd3c8"/>
<circle cx="207.05" cy="355.10" r="0.65" fill="#cdd3c8"/>
<circle cx="231.50" cy="355.10" r="0.8" fill="#8f9a86"/>
<circle cx="255.95" cy="355.10" r="0.8" fill="#8f9a86"/>
<circle cx="280.40" cy="355.10" r="0.8" fill="#8f9a86"/>
<circle cx="304.85" cy="355.10" r="1.75" fill="#7cb94a" stroke="#5f8844" stroke-width="0.65"/>
<circle cx="329.30" cy="355.10" r="1.75" fill="#7cb94a" stroke="#5f8844" stroke-width="0.65"/>
<circle cx="353.75" cy="355.10" r="0.65" fill="#cdd3c8"/>
<circle cx="158.15" cy="362.74" r="0.65" fill="#cdd3c8"/>
<circle cx="182.60" cy="362.74" r="0.8" fill="#8f9a86"/>
<circle cx="207.05" cy="362.74" r="0.8" fill="#8f9a86"/>
<circle cx="231.50" cy="362.74" r="1.75" fill="#7cb94a" stroke="#5f8844" stroke-width="0.65"/>
<circle cx="255.95" cy="362.74" r="2.94" fill="#7cb94a" stroke="#5f8844" stroke-width="0.65"/>
<circle cx="280.40" cy="362.74" r="3.11" fill="#7cb94a" stroke="#5f8844" stroke-width="0.65"/>
<circle cx="304.85" cy="362.74" r="3.11" fill="#7cb94a" stroke="#5f8844" stroke-width="0.65"/>
<circle cx="329.30" cy="362.74" r="1.75" fill="#7cb94a" stroke="#5f8844" stroke-width="0.65"/>
<circle cx="353.75" cy="362.74" r="1.75" fill="#7cb94a" stroke="#5f8844" stroke-width="0.65"/>
<circle cx="280.40" cy="378.02" r="0.8" fill="#8f9a86"/>
<circle cx="304.85" cy="378.02" r="0.8" fill="#8f9a86"/>
<circle cx="255.95" cy="385.66" r="1.75" fill="#7cb94a" stroke="#5f8844" stroke-width="0.65"/>
<circle cx="280.40" cy="385.66" r="1.75" fill="#7cb94a" stroke="#5f8844" stroke-width="0.65"/>
<circle cx="304.85" cy="385.66" r="1.75" fill="#7cb94a" stroke="#5f8844" stroke-width="0.65"/>
<circle cx="280.40" cy="393.30" r="1.92" fill="#7cb94a" stroke="#5f8844" stroke-width="0.65"/>
<circle cx="304.85" cy="393.30" r="1.92" fill="#7cb94a" stroke="#5f8844" stroke-width="0.65"/>
<circle cx="329.30" cy="393.30" r="0.65" fill="#cdd3c8"/>
<circle cx="353.75" cy="393.30" r="0.65" fill="#cdd3c8"/>
<circle cx="133.70" cy="400.94" r="0.65" fill="#cdd3c8"/>
<circle cx="207.05" cy="400.94" r="0.65" fill="#cdd3c8"/>
<circle cx="231.50" cy="400.94" r="0.65" fill="#cdd3c8"/>
<circle cx="280.40" cy="400.94" r="0.65" fill="#cdd3c8"/>
<circle cx="304.85" cy="400.94" r="0.65" fill="#cdd3c8"/>
<circle cx="329.30" cy="400.94" r="0.65" fill="#cdd3c8"/>
<circle cx="353.75" cy="400.94" r="0.65" fill="#cdd3c8"/>
<circle cx="182.60" cy="408.58" r="0.8" fill="#8f9a86"/>
<circle cx="353.75" cy="408.58" r="1.75" fill="#7cb94a" stroke="#5f8844" stroke-width="0.65"/>
<circle cx="280.40" cy="423.86" r="2.26" fill="#7cb94a" stroke="#5f8844" stroke-width="0.65"/>
<circle cx="304.85" cy="423.86" r="2.26" fill="#7cb94a" stroke="#5f8844" stroke-width="0.65"/>
<circle cx="353.75" cy="423.86" r="1.75" fill="#7cb94a" stroke="#5f8844" stroke-width="0.65"/>
<circle cx="280.40" cy="431.50" r="0.8" fill="#8f9a86"/>
<circle cx="304.85" cy="431.50" r="0.65" fill="#cdd3c8"/>
<circle cx="353.75" cy="431.50" r="0.65" fill="#cdd3c8"/>
<circle cx="182.60" cy="439.14" r="0.8" fill="#8f9a86"/>
<circle cx="207.05" cy="439.14" r="0.8" fill="#8f9a86"/>
<circle cx="231.50" cy="439.14" r="1.75" fill="#7cb94a" stroke="#5f8844" stroke-width="0.65"/>
<circle cx="255.95" cy="439.14" r="2.77" fill="#7cb94a" stroke="#5f8844" stroke-width="0.65"/>
<circle cx="280.40" cy="439.14" r="2.26" fill="#7cb94a" stroke="#5f8844" stroke-width="0.65"/>
<circle cx="304.85" cy="439.14" r="2.26" fill="#7cb94a" stroke="#5f8844" stroke-width="0.65"/>
<circle cx="329.30" cy="439.14" r="1.75" fill="#7cb94a" stroke="#5f8844" stroke-width="0.65"/>
<circle cx="353.75" cy="439.14" r="2.26" fill="#7cb94a" stroke="#5f8844" stroke-width="0.65"/>
<circle cx="182.60" cy="446.78" r="0.65" fill="#cdd3c8"/>
<circle cx="207.05" cy="446.78" r="0.8" fill="#8f9a86"/>
<circle cx="231.50" cy="446.78" r="0.8" fill="#8f9a86"/>
<circle cx="255.95" cy="446.78" r="2.77" fill="#7cb94a" stroke="#5f8844" stroke-width="0.65"/>
<circle cx="280.40" cy="446.78" r="2.26" fill="#7cb94a" stroke="#5f8844" stroke-width="0.65"/>
<circle cx="304.85" cy="446.78" r="2.26" fill="#7cb94a" stroke="#5f8844" stroke-width="0.65"/>
<circle cx="329.30" cy="446.78" r="0.65" fill="#cdd3c8"/>
<circle cx="353.75" cy="446.78" r="1.92" fill="#7cb94a" stroke="#5f8844" stroke-width="0.65"/>
<circle cx="255.95" cy="454.42" r="0.8" fill="#8f9a86"/>
<circle cx="280.40" cy="454.42" r="0.8" fill="#8f9a86"/>
<circle cx="304.85" cy="454.42" r="0.8" fill="#8f9a86"/>
<circle cx="133.70" cy="462.06" r="0.65" fill="#cdd3c8"/>
<circle cx="182.60" cy="462.06" r="0.8" fill="#8f9a86"/>
<circle cx="207.05" cy="462.06" r="1.75" fill="#7cb94a" stroke="#5f8844" stroke-width="0.65"/>
<circle cx="231.50" cy="462.06" r="1.75" fill="#7cb94a" stroke="#5f8844" stroke-width="0.65"/>
<circle cx="255.95" cy="462.06" r="1.75" fill="#7cb94a" stroke="#5f8844" stroke-width="0.65"/>
<circle cx="280.40" cy="462.06" r="1.75" fill="#7cb94a" stroke="#5f8844" stroke-width="0.65"/>
<circle cx="304.85" cy="462.06" r="1.75" fill="#7cb94a" stroke="#5f8844" stroke-width="0.65"/>
<circle cx="329.30" cy="462.06" r="1.75" fill="#7cb94a" stroke="#5f8844" stroke-width="0.65"/>
<circle cx="353.75" cy="462.06" r="1.75" fill="#7cb94a" stroke="#5f8844" stroke-width="0.65"/>
<circle cx="182.60" cy="469.70" r="0.8" fill="#8f9a86"/>
<circle cx="207.05" cy="469.70" r="0.65" fill="#cdd3c8"/>
<circle cx="231.50" cy="469.70" r="0.8" fill="#8f9a86"/>
<circle cx="255.95" cy="469.70" r="1.75" fill="#7cb94a" stroke="#5f8844" stroke-width="0.65"/>
<circle cx="280.40" cy="469.70" r="1.75" fill="#7cb94a" stroke="#5f8844" stroke-width="0.65"/>
<circle cx="304.85" cy="469.70" r="1.75" fill="#7cb94a" stroke="#5f8844" stroke-width="0.65"/>
<circle cx="353.75" cy="469.70" r="1.75" fill="#7cb94a" stroke="#5f8844" stroke-width="0.65"/>
<circle cx="182.60" cy="477.34" r="0.8" fill="#8f9a86"/>
<circle cx="207.05" cy="477.34" r="0.8" fill="#8f9a86"/>
<circle cx="231.50" cy="477.34" r="0.8" fill="#8f9a86"/>
<circle cx="280.40" cy="477.34" r="2.26" fill="#7cb94a" stroke="#5f8844" stroke-width="0.65"/>
<circle cx="304.85" cy="477.34" r="2.26" fill="#7cb94a" stroke="#5f8844" stroke-width="0.65"/>
<circle cx="329.30" cy="477.34" r="1.75" fill="#7cb94a" stroke="#5f8844" stroke-width="0.65"/>
<circle cx="353.75" cy="477.34" r="1.92" fill="#7cb94a" stroke="#5f8844" stroke-width="0.65"/>
<circle cx="182.60" cy="500.26" r="0.65" fill="#cdd3c8"/>
<circle cx="280.40" cy="500.26" r="1.75" fill="#7cb94a" stroke="#5f8844" stroke-width="0.65"/>
<circle cx="304.85" cy="500.26" r="0.8" fill="#8f9a86"/>
<circle cx="353.75" cy="500.26" r="0.8" fill="#8f9a86"/>
<circle cx="280.40" cy="507.90" r="0.65" fill="#cdd3c8"/>
<circle cx="329.30" cy="507.90" r="0.65" fill="#cdd3c8"/>
<circle cx="182.60" cy="515.54" r="0.8" fill="#8f9a86"/>
<circle cx="280.40" cy="515.54" r="0.65" fill="#cdd3c8"/>
<circle cx="353.75" cy="515.54" r="1.75" fill="#7cb94a" stroke="#5f8844" stroke-width="0.65"/>
<circle cx="461.80" cy="240.50" r="0.65" fill="#cdd3c8"/>
<circle cx="535.18" cy="240.50" r="0.8" fill="#8f9a86"/>
<circle cx="461.80" cy="248.14" r="0.8" fill="#8f9a86"/>
<circle cx="486.26" cy="248.14" r="0.8" fill="#8f9a86"/>
<circle cx="535.18" cy="248.14" r="0.65" fill="#cdd3c8"/>
<circle cx="559.64" cy="248.14" r="0.65" fill="#cdd3c8"/>
<circle cx="584.10" cy="248.14" r="0.8" fill="#8f9a86"/>
<circle cx="559.64" cy="255.78" r="0.65" fill="#cdd3c8"/>
<circle cx="584.10" cy="255.78" r="0.65" fill="#cdd3c8"/>
<circle cx="510.72" cy="263.42" r="0.65" fill="#cdd3c8"/>
<circle cx="535.18" cy="263.42" r="0.8" fill="#8f9a86"/>
<circle cx="559.64" cy="263.42" r="0.65" fill="#cdd3c8"/>
<circle cx="584.10" cy="263.42" r="0.8" fill="#8f9a86"/>
<circle cx="461.80" cy="271.06" r="0.8" fill="#8f9a86"/>
<circle cx="486.26" cy="271.06" r="0.8" fill="#8f9a86"/>
<circle cx="535.18" cy="271.06" r="1.75" fill="#7cb94a" stroke="#5f8844" stroke-width="0.65"/>
<circle cx="584.10" cy="271.06" r="1.92" fill="#7cb94a" stroke="#5f8844" stroke-width="0.65"/>
<circle cx="510.72" cy="278.70" r="0.8" fill="#8f9a86"/>
<circle cx="535.18" cy="278.70" r="1.75" fill="#7cb94a" stroke="#5f8844" stroke-width="0.65"/>
<circle cx="559.64" cy="278.70" r="1.75" fill="#7cb94a" stroke="#5f8844" stroke-width="0.65"/>
<circle cx="584.10" cy="278.70" r="1.75" fill="#7cb94a" stroke="#5f8844" stroke-width="0.65"/>
<circle cx="608.56" cy="278.70" r="0.65" fill="#cdd3c8"/>
<circle cx="633.02" cy="278.70" r="0.8" fill="#8f9a86"/>
<circle cx="657.48" cy="278.70" r="0.8" fill="#8f9a86"/>
<circle cx="681.94" cy="278.70" r="0.8" fill="#8f9a86"/>
<circle cx="510.72" cy="286.34" r="0.65" fill="#cdd3c8"/>
<circle cx="535.18" cy="286.34" r="0.65" fill="#cdd3c8"/>
<circle cx="559.64" cy="286.34" r="0.65" fill="#cdd3c8"/>
<circle cx="486.26" cy="293.98" r="0.65" fill="#cdd3c8"/>
<circle cx="510.72" cy="293.98" r="0.65" fill="#cdd3c8"/>
<circle cx="559.64" cy="293.98" r="0.8" fill="#8f9a86"/>
<circle cx="584.10" cy="293.98" r="0.8" fill="#8f9a86"/>
<circle cx="461.80" cy="301.62" r="0.65" fill="#cdd3c8"/>
<circle cx="486.26" cy="301.62" r="0.65" fill="#cdd3c8"/>
<circle cx="510.72" cy="301.62" r="0.65" fill="#cdd3c8"/>
<circle cx="535.18" cy="301.62" r="1.75" fill="#7cb94a" stroke="#5f8844" stroke-width="0.65"/>
<circle cx="559.64" cy="301.62" r="1.75" fill="#7cb94a" stroke="#5f8844" stroke-width="0.65"/>
<circle cx="584.10" cy="301.62" r="1.75" fill="#7cb94a" stroke="#5f8844" stroke-width="0.65"/>
<circle cx="681.94" cy="301.62" r="0.65" fill="#cdd3c8"/>
<circle cx="461.80" cy="309.26" r="1.75" fill="#7cb94a" stroke="#5f8844" stroke-width="0.65"/>
<circle cx="486.26" cy="309.26" r="0.8" fill="#8f9a86"/>
<circle cx="510.72" cy="309.26" r="2.26" fill="#7cb94a" stroke="#5f8844" stroke-width="0.65"/>
<circle cx="535.18" cy="309.26" r="2.94" fill="#7cb94a" stroke="#5f8844" stroke-width="0.65"/>
<circle cx="559.64" cy="309.26" r="2.94" fill="#7cb94a" stroke="#5f8844" stroke-width="0.65"/>
<circle cx="584.10" cy="309.26" r="3.45" fill="#7cb94a" stroke="#5f8844" stroke-width="0.65"/>
<circle cx="608.56" cy="309.26" r="0.8" fill="#8f9a86"/>
<circle cx="633.02" cy="309.26" r="1.92" fill="#7cb94a" stroke="#5f8844" stroke-width="0.65"/>
<circle cx="657.48" cy="309.26" r="2.09" fill="#7cb94a" stroke="#5f8844" stroke-width="0.65"/>
<circle cx="681.94" cy="309.26" r="1.92" fill="#7cb94a" stroke="#5f8844" stroke-width="0.65"/>
<circle cx="486.26" cy="316.90" r="0.65" fill="#cdd3c8"/>
<circle cx="535.18" cy="316.90" r="0.65" fill="#cdd3c8"/>
<circle cx="535.18" cy="324.54" r="0.8" fill="#8f9a86"/>
<circle cx="559.64" cy="324.54" r="0.8" fill="#8f9a86"/>
<circle cx="584.10" cy="324.54" r="0.8" fill="#8f9a86"/>
<circle cx="461.80" cy="332.18" r="0.65" fill="#cdd3c8"/>
<circle cx="486.26" cy="332.18" r="0.8" fill="#8f9a86"/>
<circle cx="510.72" cy="332.18" r="1.92" fill="#7cb94a" stroke="#5f8844" stroke-width="0.65"/>
<circle cx="535.18" cy="332.18" r="1.75" fill="#7cb94a" stroke="#5f8844" stroke-width="0.65"/>
<circle cx="559.64" cy="332.18" r="1.92" fill="#7cb94a" stroke="#5f8844" stroke-width="0.65"/>
<circle cx="584.10" cy="332.18" r="1.92" fill="#7cb94a" stroke="#5f8844" stroke-width="0.65"/>
<circle cx="608.56" cy="332.18" r="0.8" fill="#8f9a86"/>
<circle cx="633.02" cy="332.18" r="1.75" fill="#7cb94a" stroke="#5f8844" stroke-width="0.65"/>
<circle cx="657.48" cy="332.18" r="0.8" fill="#8f9a86"/>
<circle cx="681.94" cy="332.18" r="0.8" fill="#8f9a86"/>
<circle cx="461.80" cy="339.82" r="1.75" fill="#7cb94a" stroke="#5f8844" stroke-width="0.65"/>
<circle cx="486.26" cy="339.82" r="0.65" fill="#cdd3c8"/>
<circle cx="510.72" cy="339.82" r="2.26" fill="#7cb94a" stroke="#5f8844" stroke-width="0.65"/>
<circle cx="535.18" cy="339.82" r="2.09" fill="#7cb94a" stroke="#5f8844" stroke-width="0.65"/>
<circle cx="559.64" cy="339.82" r="2.77" fill="#7cb94a" stroke="#5f8844" stroke-width="0.65"/>
<circle cx="584.10" cy="339.82" r="3.11" fill="#7cb94a" stroke="#5f8844" stroke-width="0.65"/>
<circle cx="608.56" cy="339.82" r="1.75" fill="#7cb94a" stroke="#5f8844" stroke-width="0.65"/>
<circle cx="633.02" cy="339.82" r="1.75" fill="#7cb94a" stroke="#5f8844" stroke-width="0.65"/>
<circle cx="657.48" cy="339.82" r="1.92" fill="#7cb94a" stroke="#5f8844" stroke-width="0.65"/>
<circle cx="681.94" cy="339.82" r="1.92" fill="#7cb94a" stroke="#5f8844" stroke-width="0.65"/>
<circle cx="486.26" cy="347.46" r="0.8" fill="#8f9a86"/>
<circle cx="535.18" cy="347.46" r="0.65" fill="#cdd3c8"/>
<circle cx="559.64" cy="347.46" r="0.65" fill="#cdd3c8"/>
<circle cx="584.10" cy="347.46" r="0.65" fill="#cdd3c8"/>
<circle cx="461.80" cy="355.10" r="0.8" fill="#8f9a86"/>
<circle cx="486.26" cy="355.10" r="0.65" fill="#cdd3c8"/>
<circle cx="510.72" cy="355.10" r="0.8" fill="#8f9a86"/>
<circle cx="535.18" cy="355.10" r="1.92" fill="#7cb94a" stroke="#5f8844" stroke-width="0.65"/>
<circle cx="559.64" cy="355.10" r="0.8" fill="#8f9a86"/>
<circle cx="584.10" cy="355.10" r="1.75" fill="#7cb94a" stroke="#5f8844" stroke-width="0.65"/>
<circle cx="681.94" cy="355.10" r="0.65" fill="#cdd3c8"/>
<circle cx="461.80" cy="362.74" r="0.8" fill="#8f9a86"/>
<circle cx="486.26" cy="362.74" r="0.65" fill="#cdd3c8"/>
<circle cx="510.72" cy="362.74" r="2.60" fill="#7cb94a" stroke="#5f8844" stroke-width="0.65"/>
<circle cx="535.18" cy="362.74" r="2.94" fill="#7cb94a" stroke="#5f8844" stroke-width="0.65"/>
<circle cx="559.64" cy="362.74" r="3.11" fill="#7cb94a" stroke="#5f8844" stroke-width="0.65"/>
<circle cx="584.10" cy="362.74" r="3.45" fill="#7cb94a" stroke="#5f8844" stroke-width="0.65"/>
<circle cx="608.56" cy="362.74" r="1.92" fill="#7cb94a" stroke="#5f8844" stroke-width="0.65"/>
<circle cx="633.02" cy="362.74" r="1.75" fill="#7cb94a" stroke="#5f8844" stroke-width="0.65"/>
<circle cx="657.48" cy="362.74" r="1.92" fill="#7cb94a" stroke="#5f8844" stroke-width="0.65"/>
<circle cx="681.94" cy="362.74" r="2.26" fill="#7cb94a" stroke="#5f8844" stroke-width="0.65"/>
<circle cx="535.18" cy="378.02" r="0.65" fill="#cdd3c8"/>
<circle cx="559.64" cy="378.02" r="1.75" fill="#7cb94a" stroke="#5f8844" stroke-width="0.65"/>
<circle cx="584.10" cy="378.02" r="1.75" fill="#7cb94a" stroke="#5f8844" stroke-width="0.65"/>
<circle cx="510.72" cy="385.66" r="0.8" fill="#8f9a86"/>
<circle cx="535.18" cy="385.66" r="1.75" fill="#7cb94a" stroke="#5f8844" stroke-width="0.65"/>
<circle cx="559.64" cy="385.66" r="1.75" fill="#7cb94a" stroke="#5f8844" stroke-width="0.65"/>
<circle cx="584.10" cy="385.66" r="1.75" fill="#7cb94a" stroke="#5f8844" stroke-width="0.65"/>
<circle cx="633.02" cy="385.66" r="0.65" fill="#cdd3c8"/>
<circle cx="681.94" cy="385.66" r="0.65" fill="#cdd3c8"/>
<circle cx="461.80" cy="393.30" r="0.65" fill="#cdd3c8"/>
<circle cx="510.72" cy="393.30" r="0.8" fill="#8f9a86"/>
<circle cx="535.18" cy="393.30" r="1.75" fill="#7cb94a" stroke="#5f8844" stroke-width="0.65"/>
<circle cx="559.64" cy="393.30" r="2.09" fill="#7cb94a" stroke="#5f8844" stroke-width="0.65"/>
<circle cx="584.10" cy="393.30" r="2.26" fill="#7cb94a" stroke="#5f8844" stroke-width="0.65"/>
<circle cx="608.56" cy="393.30" r="0.65" fill="#cdd3c8"/>
<circle cx="657.48" cy="393.30" r="0.65" fill="#cdd3c8"/>
<circle cx="681.94" cy="393.30" r="0.65" fill="#cdd3c8"/>
<circle cx="510.72" cy="400.94" r="0.65" fill="#cdd3c8"/>
<circle cx="535.18" cy="400.94" r="0.65" fill="#cdd3c8"/>
<circle cx="559.64" cy="400.94" r="0.8" fill="#8f9a86"/>
<circle cx="584.10" cy="400.94" r="0.8" fill="#8f9a86"/>
<circle cx="657.48" cy="400.94" r="0.65" fill="#cdd3c8"/>
<circle cx="681.94" cy="400.94" r="0.65" fill="#cdd3c8"/>
<circle cx="510.72" cy="408.58" r="2.09" fill="#7cb94a" stroke="#5f8844" stroke-width="0.65"/>
<circle cx="608.56" cy="408.58" r="0.8" fill="#8f9a86"/>
<circle cx="510.72" cy="423.86" r="1.75" fill="#7cb94a" stroke="#5f8844" stroke-width="0.65"/>
<circle cx="535.18" cy="423.86" r="0.65" fill="#cdd3c8"/>
<circle cx="559.64" cy="423.86" r="1.92" fill="#7cb94a" stroke="#5f8844" stroke-width="0.65"/>
<circle cx="584.10" cy="423.86" r="2.26" fill="#7cb94a" stroke="#5f8844" stroke-width="0.65"/>
<circle cx="657.48" cy="423.86" r="0.8" fill="#8f9a86"/>
<circle cx="681.94" cy="423.86" r="0.65" fill="#cdd3c8"/>
<circle cx="510.72" cy="431.50" r="0.8" fill="#8f9a86"/>
<circle cx="559.64" cy="431.50" r="0.8" fill="#8f9a86"/>
<circle cx="584.10" cy="431.50" r="0.65" fill="#cdd3c8"/>
<circle cx="510.72" cy="439.14" r="2.26" fill="#7cb94a" stroke="#5f8844" stroke-width="0.65"/>
<circle cx="535.18" cy="439.14" r="1.92" fill="#7cb94a" stroke="#5f8844" stroke-width="0.65"/>
<circle cx="559.64" cy="439.14" r="2.26" fill="#7cb94a" stroke="#5f8844" stroke-width="0.65"/>
<circle cx="584.10" cy="439.14" r="2.26" fill="#7cb94a" stroke="#5f8844" stroke-width="0.65"/>
<circle cx="608.56" cy="439.14" r="1.75" fill="#7cb94a" stroke="#5f8844" stroke-width="0.65"/>
<circle cx="633.02" cy="439.14" r="1.92" fill="#7cb94a" stroke="#5f8844" stroke-width="0.65"/>
<circle cx="657.48" cy="439.14" r="1.75" fill="#7cb94a" stroke="#5f8844" stroke-width="0.65"/>
<circle cx="681.94" cy="439.14" r="1.75" fill="#7cb94a" stroke="#5f8844" stroke-width="0.65"/>
<circle cx="510.72" cy="446.78" r="2.43" fill="#7cb94a" stroke="#5f8844" stroke-width="0.65"/>
<circle cx="535.18" cy="446.78" r="0.8" fill="#8f9a86"/>
<circle cx="559.64" cy="446.78" r="2.26" fill="#7cb94a" stroke="#5f8844" stroke-width="0.65"/>
<circle cx="584.10" cy="446.78" r="2.26" fill="#7cb94a" stroke="#5f8844" stroke-width="0.65"/>
<circle cx="633.02" cy="446.78" r="0.8" fill="#8f9a86"/>
<circle cx="657.48" cy="446.78" r="0.8" fill="#8f9a86"/>
<circle cx="681.94" cy="446.78" r="0.8" fill="#8f9a86"/>
<circle cx="461.80" cy="454.42" r="0.8" fill="#8f9a86"/>
<circle cx="510.72" cy="454.42" r="0.8" fill="#8f9a86"/>
<circle cx="535.18" cy="454.42" r="0.8" fill="#8f9a86"/>
<circle cx="559.64" cy="454.42" r="1.75" fill="#7cb94a" stroke="#5f8844" stroke-width="0.65"/>
<circle cx="584.10" cy="454.42" r="1.75" fill="#7cb94a" stroke="#5f8844" stroke-width="0.65"/>
<circle cx="657.48" cy="454.42" r="0.65" fill="#cdd3c8"/>
<circle cx="681.94" cy="454.42" r="0.65" fill="#cdd3c8"/>
<circle cx="461.80" cy="462.06" r="0.8" fill="#8f9a86"/>
<circle cx="510.72" cy="462.06" r="1.92" fill="#7cb94a" stroke="#5f8844" stroke-width="0.65"/>
<circle cx="535.18" cy="462.06" r="1.75" fill="#7cb94a" stroke="#5f8844" stroke-width="0.65"/>
<circle cx="559.64" cy="462.06" r="1.92" fill="#7cb94a" stroke="#5f8844" stroke-width="0.65"/>
<circle cx="584.10" cy="462.06" r="1.92" fill="#7cb94a" stroke="#5f8844" stroke-width="0.65"/>
<circle cx="608.56" cy="462.06" r="1.75" fill="#7cb94a" stroke="#5f8844" stroke-width="0.65"/>
<circle cx="633.02" cy="462.06" r="1.75" fill="#7cb94a" stroke="#5f8844" stroke-width="0.65"/>
<circle cx="657.48" cy="462.06" r="1.75" fill="#7cb94a" stroke="#5f8844" stroke-width="0.65"/>
<circle cx="681.94" cy="462.06" r="1.75" fill="#7cb94a" stroke="#5f8844" stroke-width="0.65"/>
<circle cx="510.72" cy="469.70" r="1.75" fill="#7cb94a" stroke="#5f8844" stroke-width="0.65"/>
<circle cx="535.18" cy="469.70" r="0.8" fill="#8f9a86"/>
<circle cx="559.64" cy="469.70" r="1.75" fill="#7cb94a" stroke="#5f8844" stroke-width="0.65"/>
<circle cx="584.10" cy="469.70" r="1.75" fill="#7cb94a" stroke="#5f8844" stroke-width="0.65"/>
<circle cx="608.56" cy="469.70" r="0.8" fill="#8f9a86"/>
<circle cx="633.02" cy="469.70" r="0.8" fill="#8f9a86"/>
<circle cx="657.48" cy="469.70" r="0.8" fill="#8f9a86"/>
<circle cx="681.94" cy="469.70" r="0.8" fill="#8f9a86"/>
<circle cx="461.80" cy="477.34" r="0.8" fill="#8f9a86"/>
<circle cx="510.72" cy="477.34" r="1.92" fill="#7cb94a" stroke="#5f8844" stroke-width="0.65"/>
<circle cx="535.18" cy="477.34" r="1.92" fill="#7cb94a" stroke="#5f8844" stroke-width="0.65"/>
<circle cx="559.64" cy="477.34" r="2.26" fill="#7cb94a" stroke="#5f8844" stroke-width="0.65"/>
<circle cx="584.10" cy="477.34" r="2.09" fill="#7cb94a" stroke="#5f8844" stroke-width="0.65"/>
<circle cx="608.56" cy="477.34" r="1.75" fill="#7cb94a" stroke="#5f8844" stroke-width="0.65"/>
<circle cx="657.48" cy="477.34" r="1.75" fill="#7cb94a" stroke="#5f8844" stroke-width="0.65"/>
<circle cx="681.94" cy="477.34" r="1.75" fill="#7cb94a" stroke="#5f8844" stroke-width="0.65"/>
<circle cx="510.72" cy="484.98" r="0.65" fill="#cdd3c8"/>
<circle cx="559.64" cy="484.98" r="0.65" fill="#cdd3c8"/>
<circle cx="584.10" cy="484.98" r="0.65" fill="#cdd3c8"/>
<circle cx="608.56" cy="484.98" r="0.65" fill="#cdd3c8"/>
<circle cx="657.48" cy="484.98" r="0.65" fill="#cdd3c8"/>
<circle cx="681.94" cy="484.98" r="0.65" fill="#cdd3c8"/>
<circle cx="559.64" cy="492.62" r="0.65" fill="#cdd3c8"/>
<circle cx="584.10" cy="492.62" r="0.65" fill="#cdd3c8"/>
<circle cx="510.72" cy="500.26" r="1.75" fill="#7cb94a" stroke="#5f8844" stroke-width="0.65"/>
<circle cx="535.18" cy="500.26" r="1.75" fill="#7cb94a" stroke="#5f8844" stroke-width="0.65"/>
<circle cx="559.64" cy="500.26" r="1.92" fill="#7cb94a" stroke="#5f8844" stroke-width="0.65"/>
<circle cx="584.10" cy="500.26" r="1.92" fill="#7cb94a" stroke="#5f8844" stroke-width="0.65"/>
<circle cx="608.56" cy="500.26" r="0.8" fill="#8f9a86"/>
<circle cx="657.48" cy="500.26" r="0.8" fill="#8f9a86"/>
<circle cx="681.94" cy="500.26" r="0.65" fill="#cdd3c8"/>
<circle cx="559.64" cy="507.90" r="0.65" fill="#cdd3c8"/>
<circle cx="608.56" cy="507.90" r="0.65" fill="#cdd3c8"/>
<circle cx="510.72" cy="515.54" r="1.92" fill="#7cb94a" stroke="#5f8844" stroke-width="0.65"/>
<circle cx="535.18" cy="515.54" r="0.65" fill="#cdd3c8"/>
<circle cx="559.64" cy="515.54" r="0.65" fill="#cdd3c8"/>
<circle cx="584.10" cy="515.54" r="0.65" fill="#cdd3c8"/>
<circle cx="608.56" cy="515.54" r="1.75" fill="#7cb94a" stroke="#5f8844" stroke-width="0.65"/>
<circle cx="329.86" cy="803.00" r="0.65" fill="#cdd3c8"/>
<circle cx="354.33" cy="803.00" r="0.8" fill="#8f9a86"/>
<circle cx="134.10" cy="810.63" r="0.65" fill="#cdd3c8"/>
<circle cx="158.57" cy="810.63" r="0.65" fill="#cdd3c8"/>
<circle cx="231.98" cy="810.63" r="0.8" fill="#8f9a86"/>
<circle cx="305.39" cy="810.63" r="0.8" fill="#8f9a86"/>
<circle cx="329.86" cy="810.63" r="0.8" fill="#8f9a86"/>
<circle cx="354.33" cy="810.63" r="0.8" fill="#8f9a86"/>
<circle cx="134.10" cy="818.27" r="0.65" fill="#cdd3c8"/>
<circle cx="305.39" cy="818.27" r="0.8" fill="#8f9a86"/>
<circle cx="329.86" cy="818.27" r="0.8" fill="#8f9a86"/>
<circle cx="354.33" cy="818.27" r="0.8" fill="#8f9a86"/>
<circle cx="134.10" cy="825.90" r="0.8" fill="#8f9a86"/>
<circle cx="256.45" cy="825.90" r="0.65" fill="#cdd3c8"/>
<circle cx="305.39" cy="825.90" r="1.75" fill="#7cb94a" stroke="#5f8844" stroke-width="0.65"/>
<circle cx="329.86" cy="825.90" r="1.75" fill="#7cb94a" stroke="#5f8844" stroke-width="0.65"/>
<circle cx="354.33" cy="825.90" r="1.75" fill="#7cb94a" stroke="#5f8844" stroke-width="0.65"/>
<circle cx="231.98" cy="833.54" r="0.8" fill="#8f9a86"/>
<circle cx="305.39" cy="833.54" r="1.75" fill="#7cb94a" stroke="#5f8844" stroke-width="0.65"/>
<circle cx="329.86" cy="833.54" r="1.75" fill="#7cb94a" stroke="#5f8844" stroke-width="0.65"/>
<circle cx="354.33" cy="833.54" r="1.75" fill="#7cb94a" stroke="#5f8844" stroke-width="0.65"/>
<circle cx="256.45" cy="841.17" r="0.8" fill="#8f9a86"/>
<circle cx="305.39" cy="841.17" r="0.8" fill="#8f9a86"/>
<circle cx="329.86" cy="841.17" r="1.75" fill="#7cb94a" stroke="#5f8844" stroke-width="0.65"/>
<circle cx="354.33" cy="841.17" r="1.75" fill="#7cb94a" stroke="#5f8844" stroke-width="0.65"/>
<circle cx="158.57" cy="848.81" r="0.65" fill="#cdd3c8"/>
<circle cx="329.86" cy="848.81" r="0.65" fill="#cdd3c8"/>
<circle cx="231.98" cy="856.45" r="0.65" fill="#cdd3c8"/>
<circle cx="329.86" cy="856.45" r="0.8" fill="#8f9a86"/>
<circle cx="354.33" cy="856.45" r="0.8" fill="#8f9a86"/>
<circle cx="134.10" cy="864.08" r="0.65" fill="#cdd3c8"/>
<circle cx="231.98" cy="864.08" r="0.65" fill="#cdd3c8"/>
<circle cx="256.45" cy="864.08" r="0.65" fill="#cdd3c8"/>
<circle cx="305.39" cy="864.08" r="0.8" fill="#8f9a86"/>
<circle cx="329.86" cy="864.08" r="1.75" fill="#7cb94a" stroke="#5f8844" stroke-width="0.65"/>
<circle cx="354.33" cy="864.08" r="1.75" fill="#7cb94a" stroke="#5f8844" stroke-width="0.65"/>
<circle cx="207.51" cy="871.72" r="0.8" fill="#8f9a86"/>
<circle cx="231.98" cy="871.72" r="0.8" fill="#8f9a86"/>
<circle cx="256.45" cy="871.72" r="1.75" fill="#7cb94a" stroke="#5f8844" stroke-width="0.65"/>
<circle cx="280.92" cy="871.72" r="1.75" fill="#7cb94a" stroke="#5f8844" stroke-width="0.65"/>
<circle cx="305.39" cy="871.72" r="2.09" fill="#7cb94a" stroke="#5f8844" stroke-width="0.65"/>
<circle cx="329.86" cy="871.72" r="2.77" fill="#7cb94a" stroke="#5f8844" stroke-width="0.65"/>
<circle cx="354.33" cy="871.72" r="2.94" fill="#7cb94a" stroke="#5f8844" stroke-width="0.65"/>
<circle cx="231.98" cy="879.35" r="0.65" fill="#cdd3c8"/>
<circle cx="305.39" cy="879.35" r="0.65" fill="#cdd3c8"/>
<circle cx="134.10" cy="886.99" r="0.65" fill="#cdd3c8"/>
<circle cx="305.39" cy="886.99" r="0.8" fill="#8f9a86"/>
<circle cx="329.86" cy="886.99" r="0.8" fill="#8f9a86"/>
<circle cx="354.33" cy="886.99" r="0.8" fill="#8f9a86"/>
<circle cx="183.04" cy="894.62" r="0.65" fill="#cdd3c8"/>
<circle cx="207.51" cy="894.62" r="0.65" fill="#cdd3c8"/>
<circle cx="231.98" cy="894.62" r="0.8" fill="#8f9a86"/>
<circle cx="256.45" cy="894.62" r="0.8" fill="#8f9a86"/>
<circle cx="280.92" cy="894.62" r="1.75" fill="#7cb94a" stroke="#5f8844" stroke-width="0.65"/>
<circle cx="305.39" cy="894.62" r="1.75" fill="#7cb94a" stroke="#5f8844" stroke-width="0.65"/>
<circle cx="329.86" cy="894.62" r="1.75" fill="#7cb94a" stroke="#5f8844" stroke-width="0.65"/>
<circle cx="354.33" cy="894.62" r="1.75" fill="#7cb94a" stroke="#5f8844" stroke-width="0.65"/>
<circle cx="134.10" cy="902.25" r="0.65" fill="#cdd3c8"/>
<circle cx="158.57" cy="902.25" r="0.8" fill="#8f9a86"/>
<circle cx="183.04" cy="902.25" r="1.75" fill="#7cb94a" stroke="#5f8844" stroke-width="0.65"/>
<circle cx="207.51" cy="902.25" r="1.75" fill="#7cb94a" stroke="#5f8844" stroke-width="0.65"/>
<circle cx="231.98" cy="902.25" r="0.65" fill="#cdd3c8"/>
<circle cx="256.45" cy="902.25" r="1.75" fill="#7cb94a" stroke="#5f8844" stroke-width="0.65"/>
<circle cx="280.92" cy="902.25" r="1.75" fill="#7cb94a" stroke="#5f8844" stroke-width="0.65"/>
<circle cx="305.39" cy="902.25" r="1.75" fill="#7cb94a" stroke="#5f8844" stroke-width="0.65"/>
<circle cx="329.86" cy="902.25" r="2.43" fill="#7cb94a" stroke="#5f8844" stroke-width="0.65"/>
<circle cx="354.33" cy="902.25" r="2.43" fill="#7cb94a" stroke="#5f8844" stroke-width="0.65"/>
<circle cx="183.04" cy="909.89" r="0.65" fill="#cdd3c8"/>
<circle cx="207.51" cy="909.89" r="0.65" fill="#cdd3c8"/>
<circle cx="231.98" cy="909.89" r="0.8" fill="#8f9a86"/>
<circle cx="305.39" cy="909.89" r="0.8" fill="#8f9a86"/>
<circle cx="329.86" cy="909.89" r="0.65" fill="#cdd3c8"/>
<circle cx="354.33" cy="909.89" r="0.8" fill="#8f9a86"/>
<circle cx="231.98" cy="917.52" r="0.8" fill="#8f9a86"/>
<circle cx="256.45" cy="917.52" r="0.65" fill="#cdd3c8"/>
<circle cx="305.39" cy="917.52" r="1.75" fill="#7cb94a" stroke="#5f8844" stroke-width="0.65"/>
<circle cx="329.86" cy="917.52" r="1.75" fill="#7cb94a" stroke="#5f8844" stroke-width="0.65"/>
<circle cx="354.33" cy="917.52" r="1.75" fill="#7cb94a" stroke="#5f8844" stroke-width="0.65"/>
<circle cx="158.57" cy="925.16" r="0.8" fill="#8f9a86"/>
<circle cx="183.04" cy="925.16" r="0.8" fill="#8f9a86"/>
<circle cx="207.51" cy="925.16" r="1.75" fill="#7cb94a" stroke="#5f8844" stroke-width="0.65"/>
<circle cx="231.98" cy="925.16" r="0.65" fill="#cdd3c8"/>
<circle cx="256.45" cy="925.16" r="1.75" fill="#7cb94a" stroke="#5f8844" stroke-width="0.65"/>
<circle cx="280.92" cy="925.16" r="1.75" fill="#7cb94a" stroke="#5f8844" stroke-width="0.65"/>
<circle cx="305.39" cy="925.16" r="1.75" fill="#7cb94a" stroke="#5f8844" stroke-width="0.65"/>
<circle cx="329.86" cy="925.16" r="2.77" fill="#7cb94a" stroke="#5f8844" stroke-width="0.65"/>
<circle cx="354.33" cy="925.16" r="3.11" fill="#7cb94a" stroke="#5f8844" stroke-width="0.65"/>
<circle cx="231.98" cy="932.79" r="0.65" fill="#cdd3c8"/>
<circle cx="329.86" cy="932.79" r="0.65" fill="#cdd3c8"/>
<circle cx="329.86" cy="940.43" r="0.8" fill="#8f9a86"/>
<circle cx="354.33" cy="940.43" r="1.75" fill="#7cb94a" stroke="#5f8844" stroke-width="0.65"/>
<circle cx="256.45" cy="948.07" r="0.65" fill="#cdd3c8"/>
<circle cx="280.92" cy="948.07" r="0.8" fill="#8f9a86"/>
<circle cx="305.39" cy="948.07" r="0.8" fill="#8f9a86"/>
<circle cx="329.86" cy="948.07" r="1.75" fill="#7cb94a" stroke="#5f8844" stroke-width="0.65"/>
<circle cx="354.33" cy="948.07" r="1.75" fill="#7cb94a" stroke="#5f8844" stroke-width="0.65"/>
<circle cx="158.57" cy="955.70" r="0.65" fill="#cdd3c8"/>
<circle cx="183.04" cy="955.70" r="0.65" fill="#cdd3c8"/>
<circle cx="207.51" cy="955.70" r="0.65" fill="#cdd3c8"/>
<circle cx="256.45" cy="955.70" r="0.8" fill="#8f9a86"/>
<circle cx="305.39" cy="955.70" r="0.8" fill="#8f9a86"/>
<circle cx="329.86" cy="955.70" r="1.75" fill="#7cb94a" stroke="#5f8844" stroke-width="0.65"/>
<circle cx="354.33" cy="955.70" r="1.75" fill="#7cb94a" stroke="#5f8844" stroke-width="0.65"/>
<circle cx="256.45" cy="963.34" r="0.65" fill="#cdd3c8"/>
<circle cx="305.39" cy="963.34" r="0.65" fill="#cdd3c8"/>
<circle cx="329.86" cy="963.34" r="0.65" fill="#cdd3c8"/>
<circle cx="354.33" cy="963.34" r="0.65" fill="#cdd3c8"/>
<circle cx="158.57" cy="970.97" r="0.65" fill="#cdd3c8"/>
<circle cx="256.45" cy="970.97" r="1.75" fill="#7cb94a" stroke="#5f8844" stroke-width="0.65"/>
<circle cx="329.86" cy="978.61" r="1.75" fill="#7cb94a" stroke="#5f8844" stroke-width="0.65"/>
<circle cx="354.33" cy="978.61" r="1.75" fill="#7cb94a" stroke="#5f8844" stroke-width="0.65"/>
<circle cx="231.98" cy="986.24" r="0.8" fill="#8f9a86"/>
<circle cx="256.45" cy="986.24" r="0.8" fill="#8f9a86"/>
<circle cx="329.86" cy="986.24" r="1.75" fill="#7cb94a" stroke="#5f8844" stroke-width="0.65"/>
<circle cx="354.33" cy="986.24" r="1.92" fill="#7cb94a" stroke="#5f8844" stroke-width="0.65"/>
<circle cx="256.45" cy="993.88" r="0.65" fill="#cdd3c8"/>
<circle cx="329.86" cy="993.88" r="0.8" fill="#8f9a86"/>
<circle cx="354.33" cy="993.88" r="0.65" fill="#cdd3c8"/>
<circle cx="158.57" cy="1001.51" r="0.65" fill="#cdd3c8"/>
<circle cx="183.04" cy="1001.51" r="0.65" fill="#cdd3c8"/>
<circle cx="207.51" cy="1001.51" r="0.65" fill="#cdd3c8"/>
<circle cx="256.45" cy="1001.51" r="2.09" fill="#7cb94a" stroke="#5f8844" stroke-width="0.65"/>
<circle cx="280.92" cy="1001.51" r="2.43" fill="#7cb94a" stroke="#5f8844" stroke-width="0.65"/>
<circle cx="305.39" cy="1001.51" r="0.65" fill="#cdd3c8"/>
<circle cx="329.86" cy="1001.51" r="1.75" fill="#7cb94a" stroke="#5f8844" stroke-width="0.65"/>
<circle cx="354.33" cy="1001.51" r="1.75" fill="#7cb94a" stroke="#5f8844" stroke-width="0.65"/>
<circle cx="256.45" cy="1009.14" r="0.8" fill="#8f9a86"/>
<circle cx="280.92" cy="1009.14" r="1.92" fill="#7cb94a" stroke="#5f8844" stroke-width="0.65"/>
<circle cx="305.39" cy="1009.14" r="0.65" fill="#cdd3c8"/>
<circle cx="329.86" cy="1009.14" r="1.75" fill="#7cb94a" stroke="#5f8844" stroke-width="0.65"/>
<circle cx="354.33" cy="1009.14" r="0.8" fill="#8f9a86"/>
<circle cx="329.86" cy="1016.78" r="1.75" fill="#7cb94a" stroke="#5f8844" stroke-width="0.65"/>
<circle cx="354.33" cy="1016.78" r="0.8" fill="#8f9a86"/>
<circle cx="158.57" cy="1024.41" r="0.65" fill="#cdd3c8"/>
<circle cx="183.04" cy="1024.41" r="0.8" fill="#8f9a86"/>
<circle cx="207.51" cy="1024.41" r="1.75" fill="#7cb94a" stroke="#5f8844" stroke-width="0.65"/>
<circle cx="256.45" cy="1024.41" r="1.75" fill="#7cb94a" stroke="#5f8844" stroke-width="0.65"/>
<circle cx="280.92" cy="1024.41" r="1.75" fill="#7cb94a" stroke="#5f8844" stroke-width="0.65"/>
<circle cx="305.39" cy="1024.41" r="0.8" fill="#8f9a86"/>
<circle cx="329.86" cy="1024.41" r="1.75" fill="#7cb94a" stroke="#5f8844" stroke-width="0.65"/>
<circle cx="354.33" cy="1024.41" r="1.75" fill="#7cb94a" stroke="#5f8844" stroke-width="0.65"/>
<circle cx="158.57" cy="1032.05" r="0.65" fill="#cdd3c8"/>
<circle cx="183.04" cy="1032.05" r="0.65" fill="#cdd3c8"/>
<circle cx="207.51" cy="1032.05" r="0.65" fill="#cdd3c8"/>
<circle cx="256.45" cy="1032.05" r="1.75" fill="#7cb94a" stroke="#5f8844" stroke-width="0.65"/>
<circle cx="280.92" cy="1032.05" r="1.75" fill="#7cb94a" stroke="#5f8844" stroke-width="0.65"/>
<circle cx="329.86" cy="1032.05" r="1.75" fill="#7cb94a" stroke="#5f8844" stroke-width="0.65"/>
<circle cx="354.33" cy="1032.05" r="1.75" fill="#7cb94a" stroke="#5f8844" stroke-width="0.65"/>
<circle cx="134.10" cy="1039.68" r="0.65" fill="#cdd3c8"/>
<circle cx="158.57" cy="1039.68" r="0.65" fill="#cdd3c8"/>
<circle cx="183.04" cy="1039.68" r="0.8" fill="#8f9a86"/>
<circle cx="207.51" cy="1039.68" r="0.8" fill="#8f9a86"/>
<circle cx="256.45" cy="1039.68" r="1.75" fill="#7cb94a" stroke="#5f8844" stroke-width="0.65"/>
<circle cx="305.39" cy="1039.68" r="0.8" fill="#8f9a86"/>
<circle cx="329.86" cy="1039.68" r="1.75" fill="#7cb94a" stroke="#5f8844" stroke-width="0.65"/>
<circle cx="354.33" cy="1039.68" r="1.75" fill="#7cb94a" stroke="#5f8844" stroke-width="0.65"/>
<circle cx="329.86" cy="1054.95" r="0.65" fill="#cdd3c8"/>
<circle cx="354.33" cy="1054.95" r="0.65" fill="#cdd3c8"/>
<circle cx="158.57" cy="1062.59" r="0.65" fill="#cdd3c8"/>
<circle cx="256.45" cy="1062.59" r="0.8" fill="#8f9a86"/>
<circle cx="305.39" cy="1062.59" r="0.65" fill="#cdd3c8"/>
<circle cx="329.86" cy="1062.59" r="1.75" fill="#7cb94a" stroke="#5f8844" stroke-width="0.65"/>
<circle cx="354.33" cy="1062.59" r="1.75" fill="#7cb94a" stroke="#5f8844" stroke-width="0.65"/>
<circle cx="329.86" cy="1070.22" r="0.65" fill="#cdd3c8"/>
<circle cx="354.33" cy="1070.22" r="0.65" fill="#cdd3c8"/>
<circle cx="158.57" cy="1077.86" r="0.8" fill="#8f9a86"/>
<circle cx="256.45" cy="1077.86" r="0.8" fill="#8f9a86"/>
<circle cx="305.39" cy="1077.86" r="0.65" fill="#cdd3c8"/>
<circle cx="329.86" cy="1077.86" r="0.65" fill="#cdd3c8"/>
<circle cx="354.33" cy="1077.86" r="0.8" fill="#8f9a86"/>
<circle cx="461.70" cy="810.63" r="0.65" fill="#cdd3c8"/>
<circle cx="486.17" cy="810.63" r="0.8" fill="#8f9a86"/>
<circle cx="535.11" cy="810.63" r="0.8" fill="#8f9a86"/>
<circle cx="559.58" cy="810.63" r="0.8" fill="#8f9a86"/>
<circle cx="657.46" cy="810.63" r="0.8" fill="#8f9a86"/>
<circle cx="510.64" cy="818.27" r="0.65" fill="#cdd3c8"/>
<circle cx="535.11" cy="818.27" r="0.65" fill="#cdd3c8"/>
<circle cx="559.58" cy="818.27" r="0.65" fill="#cdd3c8"/>
<circle cx="657.46" cy="818.27" r="0.65" fill="#cdd3c8"/>
<circle cx="461.70" cy="825.90" r="0.8" fill="#8f9a86"/>
<circle cx="535.11" cy="825.90" r="1.75" fill="#7cb94a" stroke="#5f8844" stroke-width="0.65"/>
<circle cx="559.58" cy="825.90" r="1.75" fill="#7cb94a" stroke="#5f8844" stroke-width="0.65"/>
<circle cx="657.46" cy="825.90" r="0.8" fill="#8f9a86"/>
<circle cx="681.93" cy="825.90" r="0.65" fill="#cdd3c8"/>
<circle cx="486.17" cy="833.54" r="0.8" fill="#8f9a86"/>
<circle cx="535.11" cy="833.54" r="1.75" fill="#7cb94a" stroke="#5f8844" stroke-width="0.65"/>
<circle cx="559.58" cy="833.54" r="1.75" fill="#7cb94a" stroke="#5f8844" stroke-width="0.65"/>
<circle cx="657.46" cy="833.54" r="0.8" fill="#8f9a86"/>
<circle cx="486.17" cy="841.17" r="0.65" fill="#cdd3c8"/>
<circle cx="510.64" cy="841.17" r="1.75" fill="#7cb94a" stroke="#5f8844" stroke-width="0.65"/>
<circle cx="535.11" cy="841.17" r="1.75" fill="#7cb94a" stroke="#5f8844" stroke-width="0.65"/>
<circle cx="559.58" cy="841.17" r="0.8" fill="#8f9a86"/>
<circle cx="681.93" cy="841.17" r="0.65" fill="#cdd3c8"/>
<circle cx="486.17" cy="856.45" r="0.65" fill="#cdd3c8"/>
<circle cx="510.64" cy="856.45" r="0.8" fill="#8f9a86"/>
<circle cx="535.11" cy="856.45" r="0.8" fill="#8f9a86"/>
<circle cx="559.58" cy="856.45" r="0.65" fill="#cdd3c8"/>
<circle cx="681.93" cy="856.45" r="0.65" fill="#cdd3c8"/>
<circle cx="461.70" cy="864.08" r="0.65" fill="#cdd3c8"/>
<circle cx="486.17" cy="864.08" r="0.65" fill="#cdd3c8"/>
<circle cx="510.64" cy="864.08" r="1.75" fill="#7cb94a" stroke="#5f8844" stroke-width="0.65"/>
<circle cx="535.11" cy="864.08" r="1.75" fill="#7cb94a" stroke="#5f8844" stroke-width="0.65"/>
<circle cx="559.58" cy="864.08" r="1.75" fill="#7cb94a" stroke="#5f8844" stroke-width="0.65"/>
<circle cx="657.46" cy="864.08" r="0.8" fill="#8f9a86"/>
<circle cx="461.70" cy="871.72" r="0.8" fill="#8f9a86"/>
<circle cx="486.17" cy="871.72" r="0.8" fill="#8f9a86"/>
<circle cx="510.64" cy="871.72" r="2.94" fill="#7cb94a" stroke="#5f8844" stroke-width="0.65"/>
<circle cx="535.11" cy="871.72" r="2.94" fill="#7cb94a" stroke="#5f8844" stroke-width="0.65"/>
<circle cx="559.58" cy="871.72" r="2.94" fill="#7cb94a" stroke="#5f8844" stroke-width="0.65"/>
<circle cx="584.05" cy="871.72" r="0.8" fill="#8f9a86"/>
<circle cx="608.52" cy="871.72" r="0.65" fill="#cdd3c8"/>
<circle cx="632.99" cy="871.72" r="1.75" fill="#7cb94a" stroke="#5f8844" stroke-width="0.65"/>
<circle cx="657.46" cy="871.72" r="2.09" fill="#7cb94a" stroke="#5f8844" stroke-width="0.65"/>
<circle cx="681.93" cy="871.72" r="2.09" fill="#7cb94a" stroke="#5f8844" stroke-width="0.65"/>
<circle cx="486.17" cy="879.35" r="0.65" fill="#cdd3c8"/>
<circle cx="535.11" cy="886.99" r="0.8" fill="#8f9a86"/>
<circle cx="559.58" cy="886.99" r="0.8" fill="#8f9a86"/>
<circle cx="657.46" cy="886.99" r="0.8" fill="#8f9a86"/>
<circle cx="461.70" cy="894.62" r="0.8" fill="#8f9a86"/>
<circle cx="486.17" cy="894.62" r="0.8" fill="#8f9a86"/>
<circle cx="510.64" cy="894.62" r="1.75" fill="#7cb94a" stroke="#5f8844" stroke-width="0.65"/>
<circle cx="535.11" cy="894.62" r="1.75" fill="#7cb94a" stroke="#5f8844" stroke-width="0.65"/>
<circle cx="559.58" cy="894.62" r="1.92" fill="#7cb94a" stroke="#5f8844" stroke-width="0.65"/>
<circle cx="584.05" cy="894.62" r="0.65" fill="#cdd3c8"/>
<circle cx="608.52" cy="894.62" r="0.65" fill="#cdd3c8"/>
<circle cx="632.99" cy="894.62" r="0.65" fill="#cdd3c8"/>
<circle cx="657.46" cy="894.62" r="0.8" fill="#8f9a86"/>
<circle cx="681.93" cy="894.62" r="0.8" fill="#8f9a86"/>
<circle cx="461.70" cy="902.25" r="0.8" fill="#8f9a86"/>
<circle cx="486.17" cy="902.25" r="0.65" fill="#cdd3c8"/>
<circle cx="510.64" cy="902.25" r="2.60" fill="#7cb94a" stroke="#5f8844" stroke-width="0.65"/>
<circle cx="535.11" cy="902.25" r="2.77" fill="#7cb94a" stroke="#5f8844" stroke-width="0.65"/>
<circle cx="559.58" cy="902.25" r="2.60" fill="#7cb94a" stroke="#5f8844" stroke-width="0.65"/>
<circle cx="584.05" cy="902.25" r="0.8" fill="#8f9a86"/>
<circle cx="608.52" cy="902.25" r="2.09" fill="#7cb94a" stroke="#5f8844" stroke-width="0.65"/>
<circle cx="632.99" cy="902.25" r="1.92" fill="#7cb94a" stroke="#5f8844" stroke-width="0.65"/>
<circle cx="657.46" cy="902.25" r="1.92" fill="#7cb94a" stroke="#5f8844" stroke-width="0.65"/>
<circle cx="681.93" cy="902.25" r="1.92" fill="#7cb94a" stroke="#5f8844" stroke-width="0.65"/>
<circle cx="486.17" cy="909.89" r="0.8" fill="#8f9a86"/>
<circle cx="535.11" cy="909.89" r="0.65" fill="#cdd3c8"/>
<circle cx="559.58" cy="909.89" r="0.8" fill="#8f9a86"/>
<circle cx="657.46" cy="909.89" r="0.65" fill="#cdd3c8"/>
<circle cx="486.17" cy="917.52" r="0.65" fill="#cdd3c8"/>
<circle cx="510.64" cy="917.52" r="0.8" fill="#8f9a86"/>
<circle cx="535.11" cy="917.52" r="1.75" fill="#7cb94a" stroke="#5f8844" stroke-width="0.65"/>
<circle cx="559.58" cy="917.52" r="1.75" fill="#7cb94a" stroke="#5f8844" stroke-width="0.65"/>
<circle cx="584.05" cy="917.52" r="0.65" fill="#cdd3c8"/>
<circle cx="608.52" cy="917.52" r="0.65" fill="#cdd3c8"/>
<circle cx="632.99" cy="917.52" r="0.65" fill="#cdd3c8"/>
<circle cx="657.46" cy="917.52" r="1.75" fill="#7cb94a" stroke="#5f8844" stroke-width="0.65"/>
<circle cx="681.93" cy="917.52" r="0.8" fill="#8f9a86"/>
<circle cx="461.70" cy="925.16" r="0.8" fill="#8f9a86"/>
<circle cx="486.17" cy="925.16" r="0.65" fill="#cdd3c8"/>
<circle cx="510.64" cy="925.16" r="2.94" fill="#7cb94a" stroke="#5f8844" stroke-width="0.65"/>
<circle cx="535.11" cy="925.16" r="2.94" fill="#7cb94a" stroke="#5f8844" stroke-width="0.65"/>
<circle cx="559.58" cy="925.16" r="2.94" fill="#7cb94a" stroke="#5f8844" stroke-width="0.65"/>
<circle cx="584.05" cy="925.16" r="0.8" fill="#8f9a86"/>
<circle cx="608.52" cy="925.16" r="1.75" fill="#7cb94a" stroke="#5f8844" stroke-width="0.65"/>
<circle cx="632.99" cy="925.16" r="1.92" fill="#7cb94a" stroke="#5f8844" stroke-width="0.65"/>
<circle cx="657.46" cy="925.16" r="1.92" fill="#7cb94a" stroke="#5f8844" stroke-width="0.65"/>
<circle cx="681.93" cy="925.16" r="1.92" fill="#7cb94a" stroke="#5f8844" stroke-width="0.65"/>
<circle cx="486.17" cy="932.79" r="0.65" fill="#cdd3c8"/>
<circle cx="535.11" cy="940.43" r="0.8" fill="#8f9a86"/>
<circle cx="559.58" cy="940.43" r="0.8" fill="#8f9a86"/>
<circle cx="657.46" cy="940.43" r="0.65" fill="#cdd3c8"/>
<circle cx="510.64" cy="948.07" r="1.75" fill="#7cb94a" stroke="#5f8844" stroke-width="0.65"/>
<circle cx="535.11" cy="948.07" r="1.75" fill="#7cb94a" stroke="#5f8844" stroke-width="0.65"/>
<circle cx="559.58" cy="948.07" r="1.75" fill="#7cb94a" stroke="#5f8844" stroke-width="0.65"/>
<circle cx="657.46" cy="948.07" r="0.65" fill="#cdd3c8"/>
<circle cx="681.93" cy="948.07" r="0.65" fill="#cdd3c8"/>
<circle cx="535.11" cy="955.70" r="1.75" fill="#7cb94a" stroke="#5f8844" stroke-width="0.65"/>
<circle cx="559.58" cy="955.70" r="1.92" fill="#7cb94a" stroke="#5f8844" stroke-width="0.65"/>
<circle cx="584.05" cy="955.70" r="0.65" fill="#cdd3c8"/>
<circle cx="608.52" cy="955.70" r="0.65" fill="#cdd3c8"/>
<circle cx="632.99" cy="955.70" r="0.65" fill="#cdd3c8"/>
<circle cx="657.46" cy="955.70" r="0.8" fill="#8f9a86"/>
<circle cx="681.93" cy="955.70" r="0.8" fill="#8f9a86"/>
<circle cx="461.70" cy="963.34" r="0.65" fill="#cdd3c8"/>
<circle cx="535.11" cy="963.34" r="0.8" fill="#8f9a86"/>
<circle cx="559.58" cy="963.34" r="0.8" fill="#8f9a86"/>
<circle cx="657.46" cy="963.34" r="0.65" fill="#cdd3c8"/>
<circle cx="681.93" cy="963.34" r="0.65" fill="#cdd3c8"/>
<circle cx="584.05" cy="970.97" r="0.65" fill="#cdd3c8"/>
<circle cx="681.93" cy="970.97" r="1.75" fill="#7cb94a" stroke="#5f8844" stroke-width="0.65"/>
<circle cx="461.70" cy="978.61" r="0.65" fill="#cdd3c8"/>
<circle cx="535.11" cy="978.61" r="0.8" fill="#8f9a86"/>
<circle cx="559.58" cy="978.61" r="1.75" fill="#7cb94a" stroke="#5f8844" stroke-width="0.65"/>
<circle cx="608.52" cy="978.61" r="0.65" fill="#cdd3c8"/>
<circle cx="632.99" cy="978.61" r="0.65" fill="#cdd3c8"/>
<circle cx="657.46" cy="978.61" r="0.65" fill="#cdd3c8"/>
<circle cx="681.93" cy="978.61" r="0.8" fill="#8f9a86"/>
<circle cx="535.11" cy="986.24" r="1.75" fill="#7cb94a" stroke="#5f8844" stroke-width="0.65"/>
<circle cx="559.58" cy="986.24" r="1.92" fill="#7cb94a" stroke="#5f8844" stroke-width="0.65"/>
<circle cx="681.93" cy="986.24" r="1.92" fill="#7cb94a" stroke="#5f8844" stroke-width="0.65"/>
<circle cx="535.11" cy="993.88" r="0.8" fill="#8f9a86"/>
<circle cx="559.58" cy="993.88" r="0.65" fill="#cdd3c8"/>
<circle cx="681.93" cy="993.88" r="0.8" fill="#8f9a86"/>
<circle cx="510.64" cy="1001.51" r="2.77" fill="#7cb94a" stroke="#5f8844" stroke-width="0.65"/>
<circle cx="535.11" cy="1001.51" r="2.26" fill="#7cb94a" stroke="#5f8844" stroke-width="0.65"/>
<circle cx="559.58" cy="1001.51" r="2.26" fill="#7cb94a" stroke="#5f8844" stroke-width="0.65"/>
<circle cx="584.05" cy="1001.51" r="0.8" fill="#8f9a86"/>
<circle cx="608.52" cy="1001.51" r="0.8" fill="#8f9a86"/>
<circle cx="632.99" cy="1001.51" r="0.8" fill="#8f9a86"/>
<circle cx="657.46" cy="1001.51" r="0.8" fill="#8f9a86"/>
<circle cx="681.93" cy="1001.51" r="2.43" fill="#7cb94a" stroke="#5f8844" stroke-width="0.65"/>
<circle cx="510.64" cy="1009.14" r="2.09" fill="#7cb94a" stroke="#5f8844" stroke-width="0.65"/>
<circle cx="535.11" cy="1009.14" r="1.75" fill="#7cb94a" stroke="#5f8844" stroke-width="0.65"/>
<circle cx="559.58" cy="1009.14" r="1.75" fill="#7cb94a" stroke="#5f8844" stroke-width="0.65"/>
<circle cx="681.93" cy="1009.14" r="0.8" fill="#8f9a86"/>
<circle cx="510.64" cy="1016.78" r="0.8" fill="#8f9a86"/>
<circle cx="535.11" cy="1016.78" r="1.75" fill="#7cb94a" stroke="#5f8844" stroke-width="0.65"/>
<circle cx="559.58" cy="1016.78" r="0.8" fill="#8f9a86"/>
<circle cx="608.52" cy="1016.78" r="0.65" fill="#cdd3c8"/>
<circle cx="632.99" cy="1016.78" r="0.65" fill="#cdd3c8"/>
<circle cx="681.93" cy="1016.78" r="0.8" fill="#8f9a86"/>
<circle cx="461.70" cy="1024.41" r="0.65" fill="#cdd3c8"/>
<circle cx="510.64" cy="1024.41" r="1.75" fill="#7cb94a" stroke="#5f8844" stroke-width="0.65"/>
<circle cx="535.11" cy="1024.41" r="1.75" fill="#7cb94a" stroke="#5f8844" stroke-width="0.65"/>
<circle cx="559.58" cy="1024.41" r="1.75" fill="#7cb94a" stroke="#5f8844" stroke-width="0.65"/>
<circle cx="584.05" cy="1024.41" r="1.75" fill="#7cb94a" stroke="#5f8844" stroke-width="0.65"/>
<circle cx="608.52" cy="1024.41" r="1.75" fill="#7cb94a" stroke="#5f8844" stroke-width="0.65"/>
<circle cx="632.99" cy="1024.41" r="1.75" fill="#7cb94a" stroke="#5f8844" stroke-width="0.65"/>
<circle cx="657.46" cy="1024.41" r="1.75" fill="#7cb94a" stroke="#5f8844" stroke-width="0.65"/>
<circle cx="681.93" cy="1024.41" r="1.75" fill="#7cb94a" stroke="#5f8844" stroke-width="0.65"/>
<circle cx="510.64" cy="1032.05" r="1.75" fill="#7cb94a" stroke="#5f8844" stroke-width="0.65"/>
<circle cx="535.11" cy="1032.05" r="1.75" fill="#7cb94a" stroke="#5f8844" stroke-width="0.65"/>
<circle cx="559.58" cy="1032.05" r="1.75" fill="#7cb94a" stroke="#5f8844" stroke-width="0.65"/>
<circle cx="584.05" cy="1032.05" r="0.8" fill="#8f9a86"/>
<circle cx="608.52" cy="1032.05" r="0.8" fill="#8f9a86"/>
<circle cx="632.99" cy="1032.05" r="0.8" fill="#8f9a86"/>
<circle cx="657.46" cy="1032.05" r="0.65" fill="#cdd3c8"/>
<circle cx="681.93" cy="1032.05" r="1.75" fill="#7cb94a" stroke="#5f8844" stroke-width="0.65"/>
<circle cx="461.70" cy="1039.68" r="0.65" fill="#cdd3c8"/>
<circle cx="535.11" cy="1039.68" r="1.75" fill="#7cb94a" stroke="#5f8844" stroke-width="0.65"/>
<circle cx="559.58" cy="1039.68" r="1.75" fill="#7cb94a" stroke="#5f8844" stroke-width="0.65"/>
<circle cx="584.05" cy="1039.68" r="0.8" fill="#8f9a86"/>
<circle cx="608.52" cy="1039.68" r="0.8" fill="#8f9a86"/>
<circle cx="632.99" cy="1039.68" r="0.8" fill="#8f9a86"/>
<circle cx="657.46" cy="1039.68" r="1.75" fill="#7cb94a" stroke="#5f8844" stroke-width="0.65"/>
<circle cx="681.93" cy="1039.68" r="1.75" fill="#7cb94a" stroke="#5f8844" stroke-width="0.65"/>
<circle cx="535.11" cy="1047.32" r="0.65" fill="#cdd3c8"/>
<circle cx="559.58" cy="1047.32" r="0.65" fill="#cdd3c8"/>
<circle cx="681.93" cy="1047.32" r="0.65" fill="#cdd3c8"/>
<circle cx="535.11" cy="1062.59" r="1.75" fill="#7cb94a" stroke="#5f8844" stroke-width="0.65"/>
<circle cx="559.58" cy="1062.59" r="1.75" fill="#7cb94a" stroke="#5f8844" stroke-width="0.65"/>
<circle cx="584.05" cy="1062.59" r="0.65" fill="#cdd3c8"/>
<circle cx="657.46" cy="1062.59" r="0.8" fill="#8f9a86"/>
<circle cx="681.93" cy="1062.59" r="0.8" fill="#8f9a86"/>
<circle cx="535.11" cy="1070.22" r="0.65" fill="#cdd3c8"/>
<circle cx="559.58" cy="1070.22" r="0.8" fill="#8f9a86"/>
<circle cx="681.93" cy="1070.22" r="0.65" fill="#cdd3c8"/>
<circle cx="535.11" cy="1077.86" r="0.65" fill="#cdd3c8"/>
<circle cx="559.58" cy="1077.86" r="0.65" fill="#cdd3c8"/>
<circle cx="584.05" cy="1077.86" r="0.8" fill="#8f9a86"/>
<circle cx="681.93" cy="1077.86" r="1.75" fill="#7cb94a" stroke="#5f8844" stroke-width="0.65"/>
</svg></body></html>
